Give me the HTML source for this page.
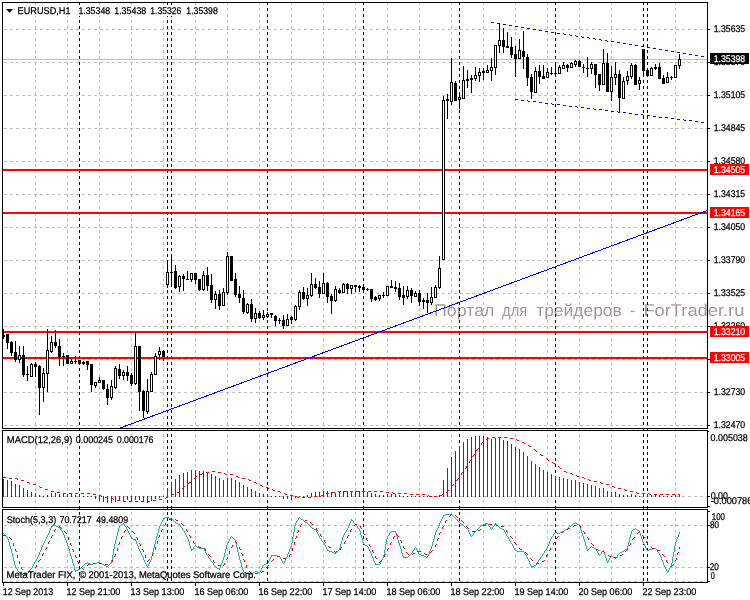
<!DOCTYPE html>
<html><head><meta charset="utf-8"><style>html,body{margin:0;padding:0;background:#fff;overflow:hidden}svg{display:block;will-change:transform}text{text-rendering:geometricPrecision}</style></head><body>
<svg width="750" height="600" viewBox="0 0 750 600" shape-rendering="crispEdges" font-family='"Liberation Sans", sans-serif'>
<rect x="0" y="0" width="750" height="600" fill="#fff"/>
<text x="434.0" y="316" font-size="17" fill="#a69797" textLength="60.5" lengthAdjust="spacingAndGlyphs">Портал</text>
<text x="502.0" y="316" font-size="17" fill="#a69797" textLength="25.4" lengthAdjust="spacingAndGlyphs">для</text>
<text x="536.2" y="316" font-size="17" fill="#a69797" textLength="85.6" lengthAdjust="spacingAndGlyphs">трейдеров</text>
<text x="629.7" y="316" font-size="17" fill="#a69797" textLength="5.5" lengthAdjust="spacingAndGlyphs">-</text>
<text x="643.4" y="316" font-size="17" fill="#a69797" textLength="101.0" lengthAdjust="spacingAndGlyphs">ForTrader.ru</text>
<line x1="4" y1="29.5" x2="707" y2="29.5" stroke="#c0c0c0" stroke-width="1" stroke-dasharray="3 3"/>
<line x1="4" y1="62.5" x2="707" y2="62.5" stroke="#c0c0c0" stroke-width="1" stroke-dasharray="3 3"/>
<line x1="4" y1="95.5" x2="707" y2="95.5" stroke="#c0c0c0" stroke-width="1" stroke-dasharray="3 3"/>
<line x1="4" y1="128.5" x2="707" y2="128.5" stroke="#c0c0c0" stroke-width="1" stroke-dasharray="3 3"/>
<line x1="4" y1="161.5" x2="707" y2="161.5" stroke="#c0c0c0" stroke-width="1" stroke-dasharray="3 3"/>
<line x1="4" y1="194.5" x2="707" y2="194.5" stroke="#c0c0c0" stroke-width="1" stroke-dasharray="3 3"/>
<line x1="4" y1="227.5" x2="707" y2="227.5" stroke="#c0c0c0" stroke-width="1" stroke-dasharray="3 3"/>
<line x1="4" y1="260.5" x2="707" y2="260.5" stroke="#c0c0c0" stroke-width="1" stroke-dasharray="3 3"/>
<line x1="4" y1="293.5" x2="707" y2="293.5" stroke="#c0c0c0" stroke-width="1" stroke-dasharray="3 3"/>
<line x1="4" y1="326.5" x2="707" y2="326.5" stroke="#c0c0c0" stroke-width="1" stroke-dasharray="3 3"/>
<line x1="4" y1="359.5" x2="707" y2="359.5" stroke="#c0c0c0" stroke-width="1" stroke-dasharray="3 3"/>
<line x1="4" y1="392.5" x2="707" y2="392.5" stroke="#c0c0c0" stroke-width="1" stroke-dasharray="3 3"/>
<line x1="4" y1="425.5" x2="707" y2="425.5" stroke="#c0c0c0" stroke-width="1" stroke-dasharray="3 3"/>
<line x1="4" y1="496.5" x2="707" y2="496.5" stroke="#c0c0c0" stroke-width="1" stroke-dasharray="3 3"/>
<line x1="4" y1="525.5" x2="707" y2="525.5" stroke="#c0c0c0" stroke-width="1" stroke-dasharray="3 3"/>
<line x1="4" y1="567.5" x2="707" y2="567.5" stroke="#c0c0c0" stroke-width="1" stroke-dasharray="3 3"/>
<line x1="4" y1="581.5" x2="707" y2="581.5" stroke="#c0c0c0" stroke-width="1" stroke-dasharray="3 3"/>
<line x1="35.5" y1="2" x2="35.5" y2="583" stroke="#c0c0c0" stroke-width="1" stroke-dasharray="3 3"/>
<line x1="67.5" y1="2" x2="67.5" y2="583" stroke="#c0c0c0" stroke-width="1" stroke-dasharray="3 3"/>
<line x1="99.5" y1="2" x2="99.5" y2="583" stroke="#c0c0c0" stroke-width="1" stroke-dasharray="3 3"/>
<line x1="131.5" y1="2" x2="131.5" y2="583" stroke="#c0c0c0" stroke-width="1" stroke-dasharray="3 3"/>
<line x1="163.5" y1="2" x2="163.5" y2="583" stroke="#c0c0c0" stroke-width="1" stroke-dasharray="3 3"/>
<line x1="195.5" y1="2" x2="195.5" y2="583" stroke="#c0c0c0" stroke-width="1" stroke-dasharray="3 3"/>
<line x1="227.5" y1="2" x2="227.5" y2="583" stroke="#c0c0c0" stroke-width="1" stroke-dasharray="3 3"/>
<line x1="259.5" y1="2" x2="259.5" y2="583" stroke="#c0c0c0" stroke-width="1" stroke-dasharray="3 3"/>
<line x1="291.5" y1="2" x2="291.5" y2="583" stroke="#c0c0c0" stroke-width="1" stroke-dasharray="3 3"/>
<line x1="323.5" y1="2" x2="323.5" y2="583" stroke="#c0c0c0" stroke-width="1" stroke-dasharray="3 3"/>
<line x1="355.5" y1="2" x2="355.5" y2="583" stroke="#c0c0c0" stroke-width="1" stroke-dasharray="3 3"/>
<line x1="387.5" y1="2" x2="387.5" y2="583" stroke="#c0c0c0" stroke-width="1" stroke-dasharray="3 3"/>
<line x1="419.5" y1="2" x2="419.5" y2="583" stroke="#c0c0c0" stroke-width="1" stroke-dasharray="3 3"/>
<line x1="451.5" y1="2" x2="451.5" y2="583" stroke="#c0c0c0" stroke-width="1" stroke-dasharray="3 3"/>
<line x1="483.5" y1="2" x2="483.5" y2="583" stroke="#c0c0c0" stroke-width="1" stroke-dasharray="3 3"/>
<line x1="515.5" y1="2" x2="515.5" y2="583" stroke="#c0c0c0" stroke-width="1" stroke-dasharray="3 3"/>
<line x1="547.5" y1="2" x2="547.5" y2="583" stroke="#c0c0c0" stroke-width="1" stroke-dasharray="3 3"/>
<line x1="579.5" y1="2" x2="579.5" y2="583" stroke="#c0c0c0" stroke-width="1" stroke-dasharray="3 3"/>
<line x1="611.5" y1="2" x2="611.5" y2="583" stroke="#c0c0c0" stroke-width="1" stroke-dasharray="3 3"/>
<line x1="643.5" y1="2" x2="643.5" y2="583" stroke="#c0c0c0" stroke-width="1" stroke-dasharray="3 3"/>
<line x1="675.5" y1="2" x2="675.5" y2="583" stroke="#c0c0c0" stroke-width="1" stroke-dasharray="3 3"/>
<rect x="3" y="169" width="704" height="2" fill="#ff0000"/>
<rect x="3" y="212" width="704" height="2" fill="#ff0000"/>
<rect x="3" y="331" width="704" height="2" fill="#ff0000"/>
<rect x="3" y="357" width="704" height="2" fill="#ff0000"/>
<line x1="120" y1="428.05" x2="707.5" y2="210.4" stroke="#0000ff" stroke-width="1"/>
<path d="M491 22h3v1h-3zM497 23h3v1h-3zM503 24h3v1h-3zM509 25h3v1h-3zM515 26h3v1h-3zM521 27h3v1h-3zM527 28h3v1h-3zM533 29h3v1h-3zM539 30h3v1h-3zM545 31h3v1h-3zM551 32h3v1h-3zM557 33h3v1h-3zM563 33h1v1h-1zM564 34h2v1h-2zM569 34h1v1h-1zM570 35h2v1h-2zM575 35h1v1h-1zM576 36h2v1h-2zM581 36h1v1h-1zM582 37h2v1h-2zM587 37h2v1h-2zM589 38h1v1h-1zM593 38h2v1h-2zM595 39h1v1h-1zM599 39h2v1h-2zM601 40h1v1h-1zM605 40h2v1h-2zM607 41h1v1h-1zM611 41h3v1h-3zM617 42h3v1h-3zM623 43h3v1h-3zM629 44h3v1h-3zM635 45h3v1h-3zM641 46h3v1h-3zM647 47h3v1h-3zM653 48h3v1h-3zM659 49h3v1h-3zM665 50h3v1h-3zM671 51h3v1h-3zM677 52h3v1h-3zM683 53h3v1h-3zM689 54h3v1h-3zM695 55h3v1h-3zM701 56h3v1h-3z" fill="#0000ff"/>
<path d="M515 99h3v1h-3zM521 100h3v1h-3zM527 100h1v1h-1zM528 101h2v1h-2zM533 101h3v1h-3zM539 102h3v1h-3zM545 103h3v1h-3zM551 103h1v1h-1zM552 104h2v1h-2zM557 104h3v1h-3zM563 105h3v1h-3zM569 106h3v1h-3zM575 106h2v1h-2zM577 107h1v1h-1zM581 107h3v1h-3zM587 108h3v1h-3zM593 108h1v1h-1zM594 109h2v1h-2zM599 109h3v1h-3zM605 110h3v1h-3zM611 111h3v1h-3zM617 111h1v1h-1zM618 112h2v1h-2zM623 112h3v1h-3zM629 113h3v1h-3zM635 114h3v1h-3zM641 114h2v1h-2zM643 115h1v1h-1zM647 115h3v1h-3zM653 116h3v1h-3zM659 117h3v1h-3zM665 117h3v1h-3zM671 118h3v1h-3zM677 119h3v1h-3zM683 119h1v1h-1zM684 120h2v1h-2zM689 120h3v1h-3zM695 121h3v1h-3zM701 122h3v1h-3z" fill="#0000ff"/>
<rect x="3" y="59" width="704" height="1" fill="#c0c0c0"/>
<line x1="79.5" y1="2" x2="79.5" y2="583" stroke="#000" stroke-width="1" stroke-dasharray="3 3"/>
<line x1="167.5" y1="2" x2="167.5" y2="583" stroke="#000" stroke-width="1" stroke-dasharray="3 3"/>
<line x1="171.5" y1="2" x2="171.5" y2="583" stroke="#000" stroke-width="1" stroke-dasharray="3 3"/>
<line x1="267.5" y1="2" x2="267.5" y2="583" stroke="#000" stroke-width="1" stroke-dasharray="3 3"/>
<line x1="363.5" y1="2" x2="363.5" y2="583" stroke="#000" stroke-width="1" stroke-dasharray="3 3"/>
<line x1="459.5" y1="2" x2="459.5" y2="583" stroke="#000" stroke-width="1" stroke-dasharray="3 3"/>
<line x1="555.5" y1="2" x2="555.5" y2="583" stroke="#000" stroke-width="1" stroke-dasharray="3 3"/>
<line x1="643.5" y1="2" x2="643.5" y2="583" stroke="#000" stroke-width="1" stroke-dasharray="3 3"/>
<line x1="647.5" y1="2" x2="647.5" y2="583" stroke="#000" stroke-width="1" stroke-dasharray="3 3"/>
<rect x="3" y="329" width="1" height="10" fill="#000"/>
<rect x="2" y="335" width="3" height="2" fill="#000"/>
<rect x="7" y="334" width="1" height="15" fill="#000"/>
<rect x="6" y="334" width="3" height="9" fill="#000"/>
<rect x="11" y="341" width="1" height="15" fill="#000"/>
<rect x="10" y="342" width="3" height="11" fill="#000"/>
<rect x="15" y="341" width="1" height="21" fill="#000"/>
<rect x="14" y="352" width="3" height="8" fill="#000"/>
<rect x="19" y="346" width="1" height="17" fill="#000"/>
<rect x="18" y="355" width="3" height="5" fill="#000"/>
<rect x="19" y="356" width="1" height="3" fill="#fff"/>
<rect x="23" y="346" width="1" height="31" fill="#000"/>
<rect x="22" y="355" width="3" height="20" fill="#000"/>
<rect x="27" y="366" width="1" height="15" fill="#000"/>
<rect x="26" y="374" width="3" height="1" fill="#000"/>
<rect x="31" y="363" width="1" height="14" fill="#000"/>
<rect x="30" y="364" width="3" height="13" fill="#000"/>
<rect x="31" y="365" width="1" height="11" fill="#fff"/>
<rect x="35" y="362" width="1" height="15" fill="#000"/>
<rect x="34" y="364" width="3" height="3" fill="#000"/>
<rect x="39" y="365" width="1" height="50" fill="#000"/>
<rect x="38" y="366" width="3" height="22" fill="#000"/>
<rect x="43" y="368" width="1" height="34" fill="#000"/>
<rect x="42" y="373" width="3" height="15" fill="#000"/>
<rect x="43" y="374" width="1" height="13" fill="#fff"/>
<rect x="47" y="329" width="1" height="63" fill="#000"/>
<rect x="46" y="350" width="3" height="24" fill="#000"/>
<rect x="47" y="351" width="1" height="22" fill="#fff"/>
<rect x="51" y="336" width="1" height="17" fill="#000"/>
<rect x="50" y="342" width="3" height="10" fill="#000"/>
<rect x="51" y="343" width="1" height="8" fill="#fff"/>
<rect x="55" y="330" width="1" height="18" fill="#000"/>
<rect x="54" y="342" width="3" height="4" fill="#000"/>
<rect x="59" y="339" width="1" height="27" fill="#000"/>
<rect x="58" y="346" width="3" height="11" fill="#000"/>
<rect x="63" y="353" width="1" height="13" fill="#000"/>
<rect x="62" y="356" width="3" height="1" fill="#000"/>
<rect x="67" y="355" width="1" height="9" fill="#000"/>
<rect x="66" y="355" width="3" height="9" fill="#000"/>
<rect x="71" y="357" width="1" height="6" fill="#000"/>
<rect x="70" y="361" width="3" height="3" fill="#000"/>
<rect x="71" y="362" width="1" height="1" fill="#fff"/>
<rect x="75" y="356" width="1" height="8" fill="#000"/>
<rect x="74" y="361" width="3" height="1" fill="#000"/>
<rect x="79" y="360" width="1" height="4" fill="#000"/>
<rect x="78" y="360" width="3" height="4" fill="#000"/>
<rect x="83" y="361" width="1" height="4" fill="#000"/>
<rect x="82" y="362" width="3" height="2" fill="#000"/>
<rect x="87" y="361" width="1" height="9" fill="#000"/>
<rect x="86" y="361" width="3" height="4" fill="#000"/>
<rect x="91" y="364" width="1" height="28" fill="#000"/>
<rect x="90" y="364" width="3" height="21" fill="#000"/>
<rect x="95" y="382" width="1" height="6" fill="#000"/>
<rect x="94" y="382" width="3" height="4" fill="#000"/>
<rect x="95" y="383" width="1" height="2" fill="#fff"/>
<rect x="99" y="377" width="1" height="5" fill="#000"/>
<rect x="98" y="380" width="3" height="3" fill="#000"/>
<rect x="99" y="381" width="1" height="1" fill="#fff"/>
<rect x="103" y="380" width="1" height="10" fill="#000"/>
<rect x="102" y="380" width="3" height="9" fill="#000"/>
<rect x="107" y="384" width="1" height="21" fill="#000"/>
<rect x="106" y="389" width="3" height="9" fill="#000"/>
<rect x="111" y="380" width="1" height="20" fill="#000"/>
<rect x="110" y="386" width="3" height="12" fill="#000"/>
<rect x="111" y="387" width="1" height="10" fill="#fff"/>
<rect x="115" y="366" width="1" height="23" fill="#000"/>
<rect x="114" y="368" width="3" height="20" fill="#000"/>
<rect x="115" y="369" width="1" height="18" fill="#fff"/>
<rect x="119" y="364" width="1" height="15" fill="#000"/>
<rect x="118" y="369" width="3" height="7" fill="#000"/>
<rect x="123" y="370" width="1" height="10" fill="#000"/>
<rect x="122" y="372" width="3" height="4" fill="#000"/>
<rect x="123" y="373" width="1" height="2" fill="#fff"/>
<rect x="127" y="366" width="1" height="15" fill="#000"/>
<rect x="126" y="372" width="3" height="4" fill="#000"/>
<rect x="131" y="373" width="1" height="13" fill="#000"/>
<rect x="130" y="375" width="3" height="9" fill="#000"/>
<rect x="135" y="332" width="1" height="53" fill="#000"/>
<rect x="134" y="346" width="3" height="38" fill="#000"/>
<rect x="135" y="347" width="1" height="36" fill="#fff"/>
<rect x="139" y="346" width="1" height="65" fill="#000"/>
<rect x="138" y="346" width="3" height="46" fill="#000"/>
<rect x="143" y="390" width="1" height="28" fill="#000"/>
<rect x="142" y="391" width="3" height="20" fill="#000"/>
<rect x="147" y="379" width="1" height="35" fill="#000"/>
<rect x="146" y="391" width="3" height="21" fill="#000"/>
<rect x="147" y="392" width="1" height="19" fill="#fff"/>
<rect x="151" y="372" width="1" height="20" fill="#000"/>
<rect x="150" y="374" width="3" height="18" fill="#000"/>
<rect x="151" y="375" width="1" height="16" fill="#fff"/>
<rect x="155" y="353" width="1" height="22" fill="#000"/>
<rect x="154" y="356" width="3" height="19" fill="#000"/>
<rect x="155" y="357" width="1" height="17" fill="#fff"/>
<rect x="159" y="347" width="1" height="13" fill="#000"/>
<rect x="158" y="351" width="3" height="4" fill="#000"/>
<rect x="159" y="352" width="1" height="2" fill="#fff"/>
<rect x="163" y="350" width="1" height="11" fill="#000"/>
<rect x="162" y="351" width="3" height="6" fill="#000"/>
<rect x="167" y="261" width="1" height="27" fill="#000"/>
<rect x="166" y="272" width="3" height="13" fill="#000"/>
<rect x="167" y="273" width="1" height="11" fill="#fff"/>
<rect x="171" y="254" width="1" height="32" fill="#000"/>
<rect x="170" y="272" width="3" height="1" fill="#000"/>
<rect x="175" y="265" width="1" height="24" fill="#000"/>
<rect x="174" y="271" width="3" height="17" fill="#000"/>
<rect x="179" y="275" width="1" height="17" fill="#000"/>
<rect x="178" y="276" width="3" height="11" fill="#000"/>
<rect x="179" y="277" width="1" height="9" fill="#fff"/>
<rect x="183" y="274" width="1" height="17" fill="#000"/>
<rect x="182" y="276" width="3" height="3" fill="#000"/>
<rect x="187" y="271" width="1" height="8" fill="#000"/>
<rect x="186" y="279" width="3" height="1" fill="#000"/>
<rect x="191" y="273" width="1" height="9" fill="#000"/>
<rect x="190" y="273" width="3" height="7" fill="#000"/>
<rect x="191" y="274" width="1" height="5" fill="#fff"/>
<rect x="195" y="273" width="1" height="11" fill="#000"/>
<rect x="194" y="273" width="3" height="7" fill="#000"/>
<rect x="199" y="279" width="1" height="12" fill="#000"/>
<rect x="198" y="279" width="3" height="11" fill="#000"/>
<rect x="203" y="271" width="1" height="20" fill="#000"/>
<rect x="202" y="275" width="3" height="15" fill="#000"/>
<rect x="203" y="276" width="1" height="13" fill="#fff"/>
<rect x="207" y="267" width="1" height="24" fill="#000"/>
<rect x="206" y="275" width="3" height="11" fill="#000"/>
<rect x="211" y="274" width="1" height="29" fill="#000"/>
<rect x="210" y="285" width="3" height="15" fill="#000"/>
<rect x="215" y="291" width="1" height="18" fill="#000"/>
<rect x="214" y="294" width="3" height="6" fill="#000"/>
<rect x="215" y="295" width="1" height="4" fill="#fff"/>
<rect x="219" y="290" width="1" height="20" fill="#000"/>
<rect x="218" y="294" width="3" height="12" fill="#000"/>
<rect x="223" y="288" width="1" height="18" fill="#000"/>
<rect x="222" y="292" width="3" height="14" fill="#000"/>
<rect x="223" y="293" width="1" height="12" fill="#fff"/>
<rect x="227" y="252" width="1" height="43" fill="#000"/>
<rect x="226" y="256" width="3" height="37" fill="#000"/>
<rect x="227" y="257" width="1" height="35" fill="#fff"/>
<rect x="231" y="256" width="1" height="25" fill="#000"/>
<rect x="230" y="256" width="3" height="25" fill="#000"/>
<rect x="235" y="273" width="1" height="24" fill="#000"/>
<rect x="234" y="279" width="3" height="16" fill="#000"/>
<rect x="239" y="286" width="1" height="17" fill="#000"/>
<rect x="238" y="294" width="3" height="4" fill="#000"/>
<rect x="243" y="290" width="1" height="24" fill="#000"/>
<rect x="242" y="298" width="3" height="14" fill="#000"/>
<rect x="247" y="303" width="1" height="11" fill="#000"/>
<rect x="246" y="304" width="3" height="9" fill="#000"/>
<rect x="247" y="305" width="1" height="7" fill="#fff"/>
<rect x="251" y="299" width="1" height="23" fill="#000"/>
<rect x="250" y="304" width="3" height="15" fill="#000"/>
<rect x="255" y="308" width="1" height="15" fill="#000"/>
<rect x="254" y="313" width="3" height="6" fill="#000"/>
<rect x="255" y="314" width="1" height="4" fill="#fff"/>
<rect x="259" y="311" width="1" height="8" fill="#000"/>
<rect x="258" y="313" width="3" height="5" fill="#000"/>
<rect x="263" y="310" width="1" height="10" fill="#000"/>
<rect x="262" y="315" width="3" height="3" fill="#000"/>
<rect x="263" y="316" width="1" height="1" fill="#fff"/>
<rect x="267" y="312" width="1" height="6" fill="#000"/>
<rect x="266" y="314" width="3" height="3" fill="#000"/>
<rect x="267" y="315" width="1" height="1" fill="#fff"/>
<rect x="271" y="313" width="1" height="5" fill="#000"/>
<rect x="270" y="313" width="3" height="2" fill="#000"/>
<rect x="275" y="315" width="1" height="11" fill="#000"/>
<rect x="274" y="316" width="3" height="5" fill="#000"/>
<rect x="279" y="318" width="1" height="6" fill="#000"/>
<rect x="278" y="320" width="3" height="1" fill="#000"/>
<rect x="283" y="315" width="1" height="14" fill="#000"/>
<rect x="282" y="320" width="3" height="6" fill="#000"/>
<rect x="287" y="314" width="1" height="12" fill="#000"/>
<rect x="286" y="319" width="3" height="7" fill="#000"/>
<rect x="287" y="320" width="1" height="5" fill="#fff"/>
<rect x="291" y="316" width="1" height="8" fill="#000"/>
<rect x="290" y="317" width="3" height="3" fill="#000"/>
<rect x="295" y="305" width="1" height="16" fill="#000"/>
<rect x="294" y="306" width="3" height="14" fill="#000"/>
<rect x="295" y="307" width="1" height="12" fill="#fff"/>
<rect x="299" y="290" width="1" height="20" fill="#000"/>
<rect x="298" y="292" width="3" height="15" fill="#000"/>
<rect x="299" y="293" width="1" height="13" fill="#fff"/>
<rect x="303" y="287" width="1" height="13" fill="#000"/>
<rect x="302" y="292" width="3" height="7" fill="#000"/>
<rect x="307" y="288" width="1" height="18" fill="#000"/>
<rect x="306" y="295" width="3" height="4" fill="#000"/>
<rect x="307" y="296" width="1" height="2" fill="#fff"/>
<rect x="311" y="273" width="1" height="24" fill="#000"/>
<rect x="310" y="284" width="3" height="12" fill="#000"/>
<rect x="311" y="285" width="1" height="10" fill="#fff"/>
<rect x="315" y="278" width="1" height="11" fill="#000"/>
<rect x="314" y="284" width="3" height="4" fill="#000"/>
<rect x="319" y="281" width="1" height="17" fill="#000"/>
<rect x="318" y="287" width="3" height="7" fill="#000"/>
<rect x="323" y="273" width="1" height="21" fill="#000"/>
<rect x="322" y="283" width="3" height="11" fill="#000"/>
<rect x="323" y="284" width="1" height="9" fill="#fff"/>
<rect x="327" y="282" width="1" height="21" fill="#000"/>
<rect x="326" y="283" width="3" height="14" fill="#000"/>
<rect x="331" y="294" width="1" height="20" fill="#000"/>
<rect x="330" y="296" width="3" height="5" fill="#000"/>
<rect x="335" y="286" width="1" height="16" fill="#000"/>
<rect x="334" y="289" width="3" height="12" fill="#000"/>
<rect x="335" y="290" width="1" height="10" fill="#fff"/>
<rect x="339" y="288" width="1" height="6" fill="#000"/>
<rect x="338" y="290" width="3" height="3" fill="#000"/>
<rect x="343" y="283" width="1" height="10" fill="#000"/>
<rect x="342" y="284" width="3" height="9" fill="#000"/>
<rect x="343" y="285" width="1" height="7" fill="#fff"/>
<rect x="347" y="283" width="1" height="11" fill="#000"/>
<rect x="346" y="284" width="3" height="5" fill="#000"/>
<rect x="351" y="285" width="1" height="9" fill="#000"/>
<rect x="350" y="285" width="3" height="4" fill="#000"/>
<rect x="351" y="286" width="1" height="2" fill="#fff"/>
<rect x="355" y="285" width="1" height="7" fill="#000"/>
<rect x="354" y="285" width="3" height="2" fill="#000"/>
<rect x="359" y="285" width="1" height="7" fill="#000"/>
<rect x="358" y="286" width="3" height="2" fill="#000"/>
<rect x="363" y="284" width="1" height="8" fill="#000"/>
<rect x="362" y="287" width="3" height="3" fill="#000"/>
<rect x="367" y="288" width="1" height="3" fill="#000"/>
<rect x="366" y="289" width="3" height="1" fill="#000"/>
<rect x="371" y="289" width="1" height="13" fill="#000"/>
<rect x="370" y="289" width="3" height="10" fill="#000"/>
<rect x="375" y="296" width="1" height="5" fill="#000"/>
<rect x="374" y="297" width="3" height="3" fill="#000"/>
<rect x="379" y="295" width="1" height="6" fill="#000"/>
<rect x="378" y="295" width="3" height="4" fill="#000"/>
<rect x="379" y="296" width="1" height="2" fill="#fff"/>
<rect x="383" y="292" width="1" height="6" fill="#000"/>
<rect x="382" y="295" width="3" height="1" fill="#000"/>
<rect x="387" y="286" width="1" height="10" fill="#000"/>
<rect x="386" y="286" width="3" height="10" fill="#000"/>
<rect x="387" y="287" width="1" height="8" fill="#fff"/>
<rect x="391" y="280" width="1" height="8" fill="#000"/>
<rect x="390" y="286" width="3" height="2" fill="#000"/>
<rect x="395" y="281" width="1" height="11" fill="#000"/>
<rect x="394" y="287" width="3" height="2" fill="#000"/>
<rect x="399" y="283" width="1" height="17" fill="#000"/>
<rect x="398" y="288" width="3" height="9" fill="#000"/>
<rect x="403" y="286" width="1" height="19" fill="#000"/>
<rect x="402" y="295" width="3" height="3" fill="#000"/>
<rect x="407" y="286" width="1" height="13" fill="#000"/>
<rect x="406" y="290" width="3" height="7" fill="#000"/>
<rect x="407" y="291" width="1" height="5" fill="#fff"/>
<rect x="411" y="288" width="1" height="15" fill="#000"/>
<rect x="410" y="290" width="3" height="6" fill="#000"/>
<rect x="415" y="291" width="1" height="6" fill="#000"/>
<rect x="414" y="293" width="3" height="4" fill="#000"/>
<rect x="415" y="294" width="1" height="2" fill="#fff"/>
<rect x="419" y="290" width="1" height="16" fill="#000"/>
<rect x="418" y="293" width="3" height="9" fill="#000"/>
<rect x="423" y="298" width="1" height="11" fill="#000"/>
<rect x="422" y="300" width="3" height="2" fill="#000"/>
<rect x="427" y="293" width="1" height="20" fill="#000"/>
<rect x="426" y="300" width="3" height="3" fill="#000"/>
<rect x="431" y="287" width="1" height="18" fill="#000"/>
<rect x="430" y="297" width="3" height="6" fill="#000"/>
<rect x="431" y="298" width="1" height="4" fill="#fff"/>
<rect x="435" y="285" width="1" height="13" fill="#000"/>
<rect x="434" y="287" width="3" height="11" fill="#000"/>
<rect x="435" y="288" width="1" height="9" fill="#fff"/>
<rect x="439" y="256" width="1" height="33" fill="#000"/>
<rect x="438" y="268" width="3" height="20" fill="#000"/>
<rect x="439" y="269" width="1" height="18" fill="#fff"/>
<rect x="443" y="96" width="1" height="164" fill="#000"/>
<rect x="442" y="100" width="3" height="160" fill="#000"/>
<rect x="443" y="101" width="1" height="158" fill="#fff"/>
<rect x="447" y="94" width="1" height="25" fill="#000"/>
<rect x="446" y="99" width="3" height="2" fill="#000"/>
<rect x="451" y="58" width="1" height="47" fill="#000"/>
<rect x="450" y="82" width="3" height="20" fill="#000"/>
<rect x="451" y="83" width="1" height="18" fill="#fff"/>
<rect x="455" y="81" width="1" height="20" fill="#000"/>
<rect x="454" y="83" width="3" height="18" fill="#000"/>
<rect x="459" y="92" width="1" height="17" fill="#000"/>
<rect x="458" y="97" width="3" height="3" fill="#000"/>
<rect x="459" y="98" width="1" height="1" fill="#fff"/>
<rect x="463" y="66" width="1" height="33" fill="#000"/>
<rect x="462" y="80" width="3" height="19" fill="#000"/>
<rect x="463" y="81" width="1" height="17" fill="#fff"/>
<rect x="467" y="70" width="1" height="18" fill="#000"/>
<rect x="466" y="79" width="3" height="2" fill="#000"/>
<rect x="471" y="75" width="1" height="18" fill="#000"/>
<rect x="470" y="78" width="3" height="2" fill="#000"/>
<rect x="475" y="67" width="1" height="14" fill="#000"/>
<rect x="474" y="75" width="3" height="4" fill="#000"/>
<rect x="475" y="76" width="1" height="2" fill="#fff"/>
<rect x="479" y="68" width="1" height="14" fill="#000"/>
<rect x="478" y="72" width="3" height="4" fill="#000"/>
<rect x="479" y="73" width="1" height="2" fill="#fff"/>
<rect x="483" y="68" width="1" height="12" fill="#000"/>
<rect x="482" y="71" width="3" height="2" fill="#000"/>
<rect x="487" y="65" width="1" height="8" fill="#000"/>
<rect x="486" y="70" width="3" height="3" fill="#000"/>
<rect x="487" y="71" width="1" height="1" fill="#fff"/>
<rect x="491" y="58" width="1" height="23" fill="#000"/>
<rect x="490" y="67" width="3" height="4" fill="#000"/>
<rect x="491" y="68" width="1" height="2" fill="#fff"/>
<rect x="495" y="45" width="1" height="30" fill="#000"/>
<rect x="494" y="45" width="3" height="23" fill="#000"/>
<rect x="495" y="46" width="1" height="21" fill="#fff"/>
<rect x="499" y="24" width="1" height="29" fill="#000"/>
<rect x="498" y="40" width="3" height="6" fill="#000"/>
<rect x="499" y="41" width="1" height="4" fill="#fff"/>
<rect x="503" y="28" width="1" height="25" fill="#000"/>
<rect x="502" y="40" width="3" height="7" fill="#000"/>
<rect x="507" y="32" width="1" height="16" fill="#000"/>
<rect x="506" y="46" width="3" height="2" fill="#000"/>
<rect x="511" y="37" width="1" height="21" fill="#000"/>
<rect x="510" y="47" width="3" height="8" fill="#000"/>
<rect x="515" y="46" width="1" height="31" fill="#000"/>
<rect x="514" y="54" width="3" height="5" fill="#000"/>
<rect x="519" y="39" width="1" height="20" fill="#000"/>
<rect x="518" y="50" width="3" height="9" fill="#000"/>
<rect x="519" y="51" width="1" height="7" fill="#fff"/>
<rect x="523" y="31" width="1" height="38" fill="#000"/>
<rect x="522" y="51" width="3" height="6" fill="#000"/>
<rect x="527" y="54" width="1" height="32" fill="#000"/>
<rect x="526" y="57" width="3" height="21" fill="#000"/>
<rect x="531" y="74" width="1" height="25" fill="#000"/>
<rect x="530" y="77" width="3" height="15" fill="#000"/>
<rect x="535" y="67" width="1" height="26" fill="#000"/>
<rect x="534" y="71" width="3" height="22" fill="#000"/>
<rect x="535" y="72" width="1" height="20" fill="#fff"/>
<rect x="539" y="65" width="1" height="19" fill="#000"/>
<rect x="538" y="71" width="3" height="6" fill="#000"/>
<rect x="543" y="65" width="1" height="14" fill="#000"/>
<rect x="542" y="76" width="3" height="3" fill="#000"/>
<rect x="547" y="68" width="1" height="10" fill="#000"/>
<rect x="546" y="72" width="3" height="6" fill="#000"/>
<rect x="547" y="73" width="1" height="4" fill="#fff"/>
<rect x="551" y="67" width="1" height="8" fill="#000"/>
<rect x="550" y="73" width="3" height="1" fill="#000"/>
<rect x="555" y="63" width="1" height="13" fill="#000"/>
<rect x="554" y="73" width="3" height="1" fill="#000"/>
<rect x="559" y="65" width="1" height="9" fill="#000"/>
<rect x="558" y="67" width="3" height="7" fill="#000"/>
<rect x="559" y="68" width="1" height="5" fill="#fff"/>
<rect x="563" y="62" width="1" height="7" fill="#000"/>
<rect x="562" y="65" width="3" height="4" fill="#000"/>
<rect x="563" y="66" width="1" height="2" fill="#fff"/>
<rect x="567" y="64" width="1" height="8" fill="#000"/>
<rect x="566" y="65" width="3" height="3" fill="#000"/>
<rect x="571" y="62" width="1" height="6" fill="#000"/>
<rect x="570" y="63" width="3" height="5" fill="#000"/>
<rect x="571" y="64" width="1" height="3" fill="#fff"/>
<rect x="575" y="60" width="1" height="7" fill="#000"/>
<rect x="574" y="61" width="3" height="4" fill="#000"/>
<rect x="575" y="62" width="1" height="2" fill="#fff"/>
<rect x="579" y="60" width="1" height="7" fill="#000"/>
<rect x="578" y="61" width="3" height="6" fill="#000"/>
<rect x="583" y="64" width="1" height="9" fill="#000"/>
<rect x="582" y="67" width="3" height="1" fill="#000"/>
<rect x="587" y="57" width="1" height="20" fill="#000"/>
<rect x="586" y="68" width="3" height="1" fill="#000"/>
<rect x="591" y="62" width="1" height="12" fill="#000"/>
<rect x="590" y="64" width="3" height="5" fill="#000"/>
<rect x="591" y="65" width="1" height="3" fill="#fff"/>
<rect x="595" y="64" width="1" height="24" fill="#000"/>
<rect x="594" y="64" width="3" height="11" fill="#000"/>
<rect x="599" y="74" width="1" height="17" fill="#000"/>
<rect x="598" y="74" width="3" height="11" fill="#000"/>
<rect x="603" y="49" width="1" height="36" fill="#000"/>
<rect x="602" y="63" width="3" height="22" fill="#000"/>
<rect x="603" y="64" width="1" height="20" fill="#fff"/>
<rect x="607" y="53" width="1" height="39" fill="#000"/>
<rect x="606" y="63" width="3" height="29" fill="#000"/>
<rect x="611" y="66" width="1" height="35" fill="#000"/>
<rect x="610" y="77" width="3" height="15" fill="#000"/>
<rect x="611" y="78" width="1" height="13" fill="#fff"/>
<rect x="615" y="62" width="1" height="23" fill="#000"/>
<rect x="614" y="74" width="3" height="4" fill="#000"/>
<rect x="615" y="75" width="1" height="2" fill="#fff"/>
<rect x="619" y="70" width="1" height="43" fill="#000"/>
<rect x="618" y="74" width="3" height="24" fill="#000"/>
<rect x="623" y="77" width="1" height="22" fill="#000"/>
<rect x="622" y="81" width="3" height="18" fill="#000"/>
<rect x="623" y="82" width="1" height="16" fill="#fff"/>
<rect x="627" y="71" width="1" height="14" fill="#000"/>
<rect x="626" y="76" width="3" height="5" fill="#000"/>
<rect x="627" y="77" width="1" height="3" fill="#fff"/>
<rect x="631" y="63" width="1" height="16" fill="#000"/>
<rect x="630" y="65" width="3" height="12" fill="#000"/>
<rect x="631" y="66" width="1" height="10" fill="#fff"/>
<rect x="635" y="64" width="1" height="21" fill="#000"/>
<rect x="634" y="65" width="3" height="20" fill="#000"/>
<rect x="639" y="77" width="1" height="13" fill="#000"/>
<rect x="638" y="80" width="3" height="4" fill="#000"/>
<rect x="639" y="81" width="1" height="2" fill="#fff"/>
<rect x="643" y="49" width="1" height="27" fill="#000"/>
<rect x="642" y="49" width="3" height="22" fill="#000"/>
<rect x="647" y="69" width="1" height="7" fill="#000"/>
<rect x="646" y="70" width="3" height="6" fill="#000"/>
<rect x="651" y="67" width="1" height="9" fill="#000"/>
<rect x="650" y="68" width="3" height="8" fill="#000"/>
<rect x="651" y="69" width="1" height="6" fill="#fff"/>
<rect x="655" y="64" width="1" height="6" fill="#000"/>
<rect x="654" y="67" width="3" height="2" fill="#000"/>
<rect x="659" y="63" width="1" height="16" fill="#000"/>
<rect x="658" y="67" width="3" height="12" fill="#000"/>
<rect x="663" y="75" width="1" height="9" fill="#000"/>
<rect x="662" y="78" width="3" height="6" fill="#000"/>
<rect x="667" y="72" width="1" height="11" fill="#000"/>
<rect x="666" y="77" width="3" height="6" fill="#000"/>
<rect x="667" y="78" width="1" height="4" fill="#fff"/>
<rect x="671" y="76" width="1" height="4" fill="#000"/>
<rect x="670" y="77" width="3" height="1" fill="#000"/>
<rect x="675" y="65" width="1" height="13" fill="#000"/>
<rect x="674" y="65" width="3" height="13" fill="#000"/>
<rect x="675" y="66" width="1" height="11" fill="#fff"/>
<rect x="679" y="54" width="1" height="15" fill="#000"/>
<rect x="678" y="59" width="3" height="7" fill="#000"/>
<rect x="679" y="60" width="1" height="5" fill="#fff"/>
<rect x="3" y="479" width="1" height="18" fill="#006400"/>
<rect x="7" y="480" width="1" height="17" fill="#006400"/>
<rect x="11" y="481" width="1" height="16" fill="#006400"/>
<rect x="15" y="484" width="1" height="13" fill="#006400"/>
<rect x="19" y="485" width="1" height="12" fill="#006400"/>
<rect x="23" y="488" width="1" height="9" fill="#006400"/>
<rect x="27" y="490" width="1" height="7" fill="#006400"/>
<rect x="31" y="492" width="1" height="5" fill="#006400"/>
<rect x="35" y="493" width="1" height="4" fill="#006400"/>
<rect x="39" y="495" width="1" height="2" fill="#006400"/>
<rect x="43" y="496" width="1" height="1" fill="#006400"/>
<rect x="47" y="495" width="1" height="2" fill="#006400"/>
<rect x="51" y="493" width="1" height="4" fill="#006400"/>
<rect x="55" y="493" width="1" height="4" fill="#006400"/>
<rect x="59" y="494" width="1" height="3" fill="#006400"/>
<rect x="63" y="493" width="1" height="4" fill="#006400"/>
<rect x="67" y="494" width="1" height="3" fill="#006400"/>
<rect x="71" y="494" width="1" height="3" fill="#006400"/>
<rect x="75" y="495" width="1" height="2" fill="#006400"/>
<rect x="79" y="495" width="1" height="2" fill="#006400"/>
<rect x="83" y="496" width="1" height="1" fill="#006400"/>
<rect x="87" y="496" width="1" height="1" fill="#006400"/>
<rect x="91" y="496" width="1" height="1" fill="#006400"/>
<rect x="95" y="496" width="1" height="3" fill="#006400"/>
<rect x="99" y="496" width="1" height="5" fill="#006400"/>
<rect x="103" y="496" width="1" height="6" fill="#006400"/>
<rect x="107" y="496" width="1" height="7" fill="#006400"/>
<rect x="111" y="496" width="1" height="7" fill="#006400"/>
<rect x="115" y="496" width="1" height="6" fill="#006400"/>
<rect x="119" y="496" width="1" height="5" fill="#006400"/>
<rect x="123" y="496" width="1" height="6" fill="#006400"/>
<rect x="127" y="496" width="1" height="4" fill="#006400"/>
<rect x="131" y="496" width="1" height="6" fill="#006400"/>
<rect x="135" y="496" width="1" height="4" fill="#006400"/>
<rect x="139" y="496" width="1" height="4" fill="#006400"/>
<rect x="143" y="496" width="1" height="6" fill="#006400"/>
<rect x="147" y="496" width="1" height="7" fill="#006400"/>
<rect x="151" y="496" width="1" height="5" fill="#006400"/>
<rect x="155" y="496" width="1" height="3" fill="#006400"/>
<rect x="159" y="496" width="1" height="2" fill="#006400"/>
<rect x="163" y="496" width="1" height="1" fill="#006400"/>
<rect x="167" y="488" width="1" height="9" fill="#006400"/>
<rect x="171" y="482" width="1" height="15" fill="#006400"/>
<rect x="175" y="479" width="1" height="18" fill="#006400"/>
<rect x="179" y="475" width="1" height="22" fill="#006400"/>
<rect x="183" y="473" width="1" height="24" fill="#006400"/>
<rect x="187" y="472" width="1" height="25" fill="#006400"/>
<rect x="191" y="470" width="1" height="27" fill="#006400"/>
<rect x="195" y="470" width="1" height="27" fill="#006400"/>
<rect x="199" y="471" width="1" height="26" fill="#006400"/>
<rect x="203" y="471" width="1" height="26" fill="#006400"/>
<rect x="207" y="473" width="1" height="24" fill="#006400"/>
<rect x="211" y="474" width="1" height="23" fill="#006400"/>
<rect x="215" y="476" width="1" height="21" fill="#006400"/>
<rect x="219" y="478" width="1" height="19" fill="#006400"/>
<rect x="223" y="480" width="1" height="17" fill="#006400"/>
<rect x="227" y="478" width="1" height="19" fill="#006400"/>
<rect x="231" y="478" width="1" height="19" fill="#006400"/>
<rect x="235" y="480" width="1" height="17" fill="#006400"/>
<rect x="239" y="482" width="1" height="15" fill="#006400"/>
<rect x="243" y="485" width="1" height="12" fill="#006400"/>
<rect x="247" y="487" width="1" height="10" fill="#006400"/>
<rect x="251" y="489" width="1" height="8" fill="#006400"/>
<rect x="255" y="491" width="1" height="6" fill="#006400"/>
<rect x="259" y="493" width="1" height="4" fill="#006400"/>
<rect x="263" y="494" width="1" height="3" fill="#006400"/>
<rect x="267" y="494" width="1" height="3" fill="#006400"/>
<rect x="271" y="496" width="1" height="1" fill="#006400"/>
<rect x="275" y="496" width="1" height="1" fill="#006400"/>
<rect x="279" y="496" width="1" height="1" fill="#006400"/>
<rect x="283" y="496" width="1" height="3" fill="#006400"/>
<rect x="287" y="496" width="1" height="3" fill="#006400"/>
<rect x="291" y="496" width="1" height="4" fill="#006400"/>
<rect x="295" y="496" width="1" height="2" fill="#006400"/>
<rect x="299" y="496" width="1" height="1" fill="#006400"/>
<rect x="303" y="496" width="1" height="1" fill="#006400"/>
<rect x="307" y="495" width="1" height="2" fill="#006400"/>
<rect x="311" y="493" width="1" height="4" fill="#006400"/>
<rect x="315" y="492" width="1" height="5" fill="#006400"/>
<rect x="319" y="492" width="1" height="5" fill="#006400"/>
<rect x="323" y="491" width="1" height="6" fill="#006400"/>
<rect x="327" y="491" width="1" height="6" fill="#006400"/>
<rect x="331" y="492" width="1" height="5" fill="#006400"/>
<rect x="335" y="493" width="1" height="4" fill="#006400"/>
<rect x="339" y="491" width="1" height="6" fill="#006400"/>
<rect x="343" y="491" width="1" height="6" fill="#006400"/>
<rect x="347" y="491" width="1" height="6" fill="#006400"/>
<rect x="351" y="491" width="1" height="6" fill="#006400"/>
<rect x="355" y="491" width="1" height="6" fill="#006400"/>
<rect x="359" y="491" width="1" height="6" fill="#006400"/>
<rect x="363" y="491" width="1" height="6" fill="#006400"/>
<rect x="367" y="492" width="1" height="5" fill="#006400"/>
<rect x="371" y="493" width="1" height="4" fill="#006400"/>
<rect x="375" y="494" width="1" height="3" fill="#006400"/>
<rect x="379" y="495" width="1" height="2" fill="#006400"/>
<rect x="383" y="495" width="1" height="2" fill="#006400"/>
<rect x="387" y="494" width="1" height="3" fill="#006400"/>
<rect x="391" y="494" width="1" height="3" fill="#006400"/>
<rect x="395" y="494" width="1" height="3" fill="#006400"/>
<rect x="399" y="495" width="1" height="2" fill="#006400"/>
<rect x="403" y="496" width="1" height="1" fill="#006400"/>
<rect x="407" y="496" width="1" height="1" fill="#006400"/>
<rect x="411" y="496" width="1" height="1" fill="#006400"/>
<rect x="415" y="496" width="1" height="1" fill="#006400"/>
<rect x="419" y="496" width="1" height="1" fill="#006400"/>
<rect x="423" y="496" width="1" height="1" fill="#006400"/>
<rect x="427" y="496" width="1" height="1" fill="#006400"/>
<rect x="431" y="496" width="1" height="1" fill="#006400"/>
<rect x="435" y="496" width="1" height="1" fill="#006400"/>
<rect x="439" y="495" width="1" height="2" fill="#006400"/>
<rect x="443" y="480" width="1" height="17" fill="#006400"/>
<rect x="447" y="468" width="1" height="29" fill="#006400"/>
<rect x="451" y="457" width="1" height="40" fill="#006400"/>
<rect x="455" y="451" width="1" height="46" fill="#006400"/>
<rect x="459" y="446" width="1" height="51" fill="#006400"/>
<rect x="463" y="442" width="1" height="55" fill="#006400"/>
<rect x="467" y="439" width="1" height="58" fill="#006400"/>
<rect x="471" y="437" width="1" height="60" fill="#006400"/>
<rect x="475" y="436" width="1" height="61" fill="#006400"/>
<rect x="479" y="436" width="1" height="61" fill="#006400"/>
<rect x="483" y="436" width="1" height="61" fill="#006400"/>
<rect x="487" y="437" width="1" height="60" fill="#006400"/>
<rect x="491" y="439" width="1" height="58" fill="#006400"/>
<rect x="495" y="438" width="1" height="59" fill="#006400"/>
<rect x="499" y="438" width="1" height="59" fill="#006400"/>
<rect x="503" y="440" width="1" height="57" fill="#006400"/>
<rect x="507" y="441" width="1" height="56" fill="#006400"/>
<rect x="511" y="444" width="1" height="53" fill="#006400"/>
<rect x="515" y="447" width="1" height="50" fill="#006400"/>
<rect x="519" y="449" width="1" height="48" fill="#006400"/>
<rect x="523" y="452" width="1" height="45" fill="#006400"/>
<rect x="527" y="456" width="1" height="41" fill="#006400"/>
<rect x="531" y="461" width="1" height="36" fill="#006400"/>
<rect x="535" y="464" width="1" height="33" fill="#006400"/>
<rect x="539" y="467" width="1" height="30" fill="#006400"/>
<rect x="543" y="470" width="1" height="27" fill="#006400"/>
<rect x="547" y="472" width="1" height="25" fill="#006400"/>
<rect x="551" y="474" width="1" height="23" fill="#006400"/>
<rect x="555" y="476" width="1" height="21" fill="#006400"/>
<rect x="559" y="477" width="1" height="20" fill="#006400"/>
<rect x="563" y="478" width="1" height="19" fill="#006400"/>
<rect x="567" y="479" width="1" height="18" fill="#006400"/>
<rect x="571" y="480" width="1" height="17" fill="#006400"/>
<rect x="575" y="480" width="1" height="17" fill="#006400"/>
<rect x="579" y="482" width="1" height="15" fill="#006400"/>
<rect x="583" y="483" width="1" height="14" fill="#006400"/>
<rect x="587" y="484" width="1" height="13" fill="#006400"/>
<rect x="591" y="485" width="1" height="12" fill="#006400"/>
<rect x="595" y="486" width="1" height="11" fill="#006400"/>
<rect x="599" y="488" width="1" height="9" fill="#006400"/>
<rect x="603" y="488" width="1" height="9" fill="#006400"/>
<rect x="607" y="491" width="1" height="6" fill="#006400"/>
<rect x="611" y="492" width="1" height="5" fill="#006400"/>
<rect x="615" y="492" width="1" height="5" fill="#006400"/>
<rect x="619" y="494" width="1" height="3" fill="#006400"/>
<rect x="623" y="495" width="1" height="2" fill="#006400"/>
<rect x="627" y="495" width="1" height="2" fill="#006400"/>
<rect x="631" y="494" width="1" height="3" fill="#006400"/>
<rect x="635" y="495" width="1" height="2" fill="#006400"/>
<rect x="639" y="496" width="1" height="1" fill="#006400"/>
<rect x="643" y="494" width="1" height="3" fill="#006400"/>
<rect x="647" y="494" width="1" height="3" fill="#006400"/>
<rect x="651" y="495" width="1" height="2" fill="#006400"/>
<rect x="655" y="495" width="1" height="2" fill="#006400"/>
<rect x="659" y="495" width="1" height="2" fill="#006400"/>
<rect x="663" y="496" width="1" height="1" fill="#006400"/>
<rect x="667" y="496" width="1" height="1" fill="#006400"/>
<rect x="671" y="496" width="1" height="1" fill="#006400"/>
<rect x="675" y="495" width="1" height="2" fill="#006400"/>
<rect x="679" y="494" width="1" height="3" fill="#006400"/>
<path d="M492 437h3v1h-3zM498 437h3v1h-3zM504 437h3v1h-3zM488 438h1v1h-1zM510 438h3v1h-3zM486 439h2v1h-2zM516 439h1v1h-1zM517 440h2v1h-2zM482 442h1v1h-1zM522 442h2v1h-2zM481 443h1v1h-1zM524 443h1v1h-1zM481 444h1v1h-1zM528 445h1v1h-1zM529 446h2v1h-2zM478 448h1v1h-1zM477 449h1v1h-1zM534 449h1v1h-1zM476 450h1v1h-1zM535 450h1v1h-1zM536 451h1v1h-1zM474 454h1v1h-1zM540 454h1v1h-1zM473 455h1v1h-1zM541 455h2v1h-2zM472 456h1v1h-1zM546 458h1v1h-1zM547 459h1v1h-1zM470 460h1v1h-1zM548 460h1v1h-1zM469 461h1v1h-1zM469 462h1v1h-1zM552 462h1v1h-1zM553 463h2v1h-2zM466 466h1v1h-1zM558 466h1v1h-1zM466 467h1v1h-1zM559 467h1v1h-1zM465 468h1v1h-1zM560 468h1v1h-1zM212 471h3v1h-3zM564 471h2v1h-2zM206 472h3v1h-3zM218 472h3v1h-3zM462 472h1v1h-1zM566 472h1v1h-1zM202 473h1v1h-1zM224 473h1v1h-1zM461 473h1v1h-1zM570 473h2v1h-2zM200 474h2v1h-2zM225 474h2v1h-2zM230 474h3v1h-3zM461 474h1v1h-1zM572 474h1v1h-1zM576 475h1v1h-1zM196 476h1v1h-1zM236 476h2v1h-2zM577 476h2v1h-2zM3 477h3v1h-3zM195 477h1v1h-1zM238 477h1v1h-1zM582 477h2v1h-2zM9 478h3v1h-3zM15 478h2v1h-2zM194 478h1v1h-1zM242 478h3v1h-3zM458 478h1v1h-1zM584 478h1v1h-1zM17 479h1v1h-1zM248 479h1v1h-1zM457 479h1v1h-1zM588 479h1v1h-1zM21 480h3v1h-3zM249 480h2v1h-2zM456 480h1v1h-1zM589 480h2v1h-2zM594 481h3v1h-3zM27 482h2v1h-2zM189 482h2v1h-2zM254 482h2v1h-2zM600 482h1v1h-1zM29 483h1v1h-1zM188 483h1v1h-1zM256 483h1v1h-1zM601 483h2v1h-2zM33 484h3v1h-3zM453 484h1v1h-1zM606 484h3v1h-3zM260 485h2v1h-2zM452 485h1v1h-1zM39 486h1v1h-1zM184 486h1v1h-1zM262 486h1v1h-1zM451 486h1v1h-1zM612 486h2v1h-2zM40 487h2v1h-2zM183 487h1v1h-1zM266 487h2v1h-2zM614 487h1v1h-1zM182 488h1v1h-1zM268 488h1v1h-1zM618 488h3v1h-3zM45 489h3v1h-3zM272 489h1v1h-1zM624 489h1v1h-1zM273 490h2v1h-2zM448 490h1v1h-1zM625 490h2v1h-2zM51 491h3v1h-3zM278 491h2v1h-2zM338 491h3v1h-3zM344 491h3v1h-3zM350 491h3v1h-3zM356 491h3v1h-3zM362 491h3v1h-3zM368 491h3v1h-3zM374 491h3v1h-3zM380 491h3v1h-3zM447 491h1v1h-1zM630 491h3v1h-3zM57 492h3v1h-3zM177 492h3v1h-3zM280 492h1v1h-1zM332 492h3v1h-3zM386 492h3v1h-3zM392 492h1v1h-1zM446 492h1v1h-1zM636 492h1v1h-1zM63 493h3v1h-3zM69 493h3v1h-3zM75 493h3v1h-3zM81 493h3v1h-3zM87 493h3v1h-3zM284 493h1v1h-1zM326 493h3v1h-3zM393 493h2v1h-2zM398 493h3v1h-3zM404 493h3v1h-3zM637 493h2v1h-2zM642 493h3v1h-3zM648 493h1v1h-1zM93 494h3v1h-3zM172 494h2v1h-2zM285 494h2v1h-2zM410 494h3v1h-3zM416 494h3v1h-3zM422 494h3v1h-3zM442 494h1v1h-1zM649 494h2v1h-2zM654 494h3v1h-3zM660 494h3v1h-3zM666 494h3v1h-3zM672 494h3v1h-3zM678 494h2v1h-2zM99 495h2v1h-2zM171 495h1v1h-1zM290 495h3v1h-3zM321 495h2v1h-2zM428 495h1v1h-1zM440 495h2v1h-2zM101 496h1v1h-1zM296 496h1v1h-1zM314 496h3v1h-3zM320 496h1v1h-1zM429 496h2v1h-2zM434 496h3v1h-3zM105 497h3v1h-3zM166 497h2v1h-2zM297 497h2v1h-2zM302 497h3v1h-3zM308 497h3v1h-3zM111 498h2v1h-2zM165 498h1v1h-1zM113 499h1v1h-1zM159 499h3v1h-3zM117 500h3v1h-3zM153 500h3v1h-3zM123 501h3v1h-3zM129 501h3v1h-3zM135 501h3v1h-3zM141 501h3v1h-3zM147 501h3v1h-3z" fill="#ff0000"/>
<path d="M445 514h7v1h-7zM443 515h2v1h-2zM452 515h1v1h-1zM443 516h1v1h-1zM453 516h1v1h-1zM165 517h4v1h-4zM299 517h1v1h-1zM442 517h1v1h-1zM454 517h1v1h-1zM163 518h2v1h-2zM169 518h3v1h-3zM298 518h1v1h-1zM300 518h1v1h-1zM442 518h1v1h-1zM455 518h1v1h-1zM163 519h1v1h-1zM172 519h1v1h-1zM298 519h1v1h-1zM301 519h2v1h-2zM351 519h1v1h-1zM441 519h1v1h-1zM456 519h1v1h-1zM162 520h1v1h-1zM173 520h1v1h-1zM297 520h1v1h-1zM303 520h1v1h-1zM351 520h2v1h-2zM441 520h1v1h-1zM457 520h1v1h-1zM162 521h1v1h-1zM174 521h1v1h-1zM296 521h1v1h-1zM304 521h1v1h-1zM350 521h1v1h-1zM353 521h1v1h-1zM440 521h1v1h-1zM458 521h1v1h-1zM161 522h1v1h-1zM175 522h1v1h-1zM296 522h1v1h-1zM305 522h2v1h-2zM350 522h1v1h-1zM353 522h1v1h-1zM440 522h1v1h-1zM459 522h1v1h-1zM575 522h1v1h-1zM123 523h1v1h-1zM161 523h1v1h-1zM176 523h2v1h-2zM295 523h1v1h-1zM307 523h1v1h-1zM349 523h1v1h-1zM354 523h1v1h-1zM439 523h1v1h-1zM460 523h1v1h-1zM485 523h3v1h-3zM495 523h1v1h-1zM573 523h2v1h-2zM576 523h1v1h-1zM121 524h2v1h-2zM124 524h1v1h-1zM160 524h1v1h-1zM178 524h2v1h-2zM295 524h1v1h-1zM308 524h1v1h-1zM349 524h1v1h-1zM355 524h1v1h-1zM439 524h1v1h-1zM461 524h2v1h-2zM483 524h2v1h-2zM488 524h1v1h-1zM494 524h1v1h-1zM496 524h1v1h-1zM572 524h1v1h-1zM577 524h2v1h-2zM53 525h3v1h-3zM120 525h1v1h-1zM124 525h1v1h-1zM160 525h1v1h-1zM180 525h1v1h-1zM295 525h1v1h-1zM309 525h1v1h-1zM349 525h1v1h-1zM356 525h1v1h-1zM439 525h1v1h-1zM463 525h1v1h-1zM481 525h2v1h-2zM488 525h1v1h-1zM494 525h1v1h-1zM497 525h1v1h-1zM571 525h1v1h-1zM579 525h1v1h-1zM51 526h2v1h-2zM56 526h2v1h-2zM119 526h1v1h-1zM125 526h1v1h-1zM159 526h1v1h-1zM180 526h1v1h-1zM294 526h1v1h-1zM310 526h1v1h-1zM348 526h1v1h-1zM357 526h1v1h-1zM438 526h1v1h-1zM464 526h1v1h-1zM480 526h1v1h-1zM489 526h1v1h-1zM493 526h1v1h-1zM498 526h1v1h-1zM569 526h2v1h-2zM579 526h1v1h-1zM51 527h1v1h-1zM58 527h2v1h-2zM119 527h1v1h-1zM126 527h1v1h-1zM159 527h1v1h-1zM181 527h1v1h-1zM294 527h1v1h-1zM311 527h1v1h-1zM348 527h1v1h-1zM357 527h1v1h-1zM438 527h1v1h-1zM465 527h1v1h-1zM479 527h1v1h-1zM490 527h1v1h-1zM492 527h1v1h-1zM499 527h1v1h-1zM568 527h1v1h-1zM580 527h1v1h-1zM50 528h1v1h-1zM60 528h1v1h-1zM118 528h1v1h-1zM126 528h1v1h-1zM159 528h1v1h-1zM182 528h1v1h-1zM294 528h1v1h-1zM312 528h2v1h-2zM347 528h1v1h-1zM358 528h1v1h-1zM437 528h1v1h-1zM466 528h1v1h-1zM478 528h1v1h-1zM490 528h1v1h-1zM492 528h1v1h-1zM500 528h2v1h-2zM567 528h1v1h-1zM580 528h1v1h-1zM635 528h1v1h-1zM50 529h1v1h-1zM60 529h1v1h-1zM118 529h1v1h-1zM127 529h1v1h-1zM158 529h1v1h-1zM182 529h1v1h-1zM294 529h1v1h-1zM314 529h2v1h-2zM347 529h1v1h-1zM359 529h1v1h-1zM437 529h1v1h-1zM467 529h1v1h-1zM477 529h1v1h-1zM491 529h1v1h-1zM502 529h2v1h-2zM565 529h2v1h-2zM580 529h1v1h-1zM633 529h2v1h-2zM636 529h1v1h-1zM49 530h1v1h-1zM61 530h1v1h-1zM118 530h1v1h-1zM127 530h1v1h-1zM158 530h1v1h-1zM183 530h1v1h-1zM294 530h1v1h-1zM316 530h1v1h-1zM346 530h1v1h-1zM359 530h1v1h-1zM436 530h1v1h-1zM468 530h1v1h-1zM476 530h1v1h-1zM504 530h1v1h-1zM564 530h1v1h-1zM581 530h1v1h-1zM632 530h1v1h-1zM637 530h2v1h-2zM49 531h1v1h-1zM62 531h1v1h-1zM118 531h1v1h-1zM128 531h1v1h-1zM158 531h1v1h-1zM184 531h1v1h-1zM294 531h1v1h-1zM316 531h1v1h-1zM346 531h1v1h-1zM360 531h1v1h-1zM391 531h5v1h-5zM436 531h1v1h-1zM468 531h1v1h-1zM475 531h1v1h-1zM504 531h1v1h-1zM562 531h2v1h-2zM581 531h1v1h-1zM631 531h1v1h-1zM639 531h1v1h-1zM49 532h1v1h-1zM62 532h1v1h-1zM117 532h1v1h-1zM128 532h1v1h-1zM158 532h1v1h-1zM184 532h1v1h-1zM293 532h1v1h-1zM317 532h1v1h-1zM345 532h1v1h-1zM360 532h1v1h-1zM390 532h1v1h-1zM395 532h1v1h-1zM435 532h1v1h-1zM469 532h1v1h-1zM474 532h1v1h-1zM505 532h1v1h-1zM555 532h2v1h-2zM560 532h2v1h-2zM581 532h1v1h-1zM631 532h1v1h-1zM639 532h1v1h-1zM679 532h1v1h-1zM3 533h1v1h-1zM48 533h1v1h-1zM63 533h1v1h-1zM117 533h1v1h-1zM129 533h1v1h-1zM157 533h1v1h-1zM185 533h1v1h-1zM293 533h1v1h-1zM317 533h1v1h-1zM344 533h1v1h-1zM360 533h1v1h-1zM389 533h1v1h-1zM396 533h1v1h-1zM435 533h1v1h-1zM469 533h1v1h-1zM473 533h1v1h-1zM505 533h1v1h-1zM554 533h1v1h-1zM557 533h3v1h-3zM582 533h1v1h-1zM631 533h1v1h-1zM640 533h1v1h-1zM679 533h1v1h-1zM4 534h1v1h-1zM48 534h1v1h-1zM63 534h1v1h-1zM117 534h1v1h-1zM129 534h1v1h-1zM157 534h1v1h-1zM185 534h1v1h-1zM293 534h1v1h-1zM318 534h1v1h-1zM344 534h1v1h-1zM360 534h1v1h-1zM389 534h1v1h-1zM396 534h1v1h-1zM435 534h1v1h-1zM470 534h1v1h-1zM473 534h1v1h-1zM506 534h1v1h-1zM553 534h1v1h-1zM582 534h1v1h-1zM630 534h1v1h-1zM640 534h1v1h-1zM678 534h1v1h-1zM5 535h1v1h-1zM47 535h1v1h-1zM64 535h1v1h-1zM117 535h1v1h-1zM130 535h1v1h-1zM157 535h1v1h-1zM186 535h1v1h-1zM293 535h1v1h-1zM318 535h1v1h-1zM343 535h1v1h-1zM361 535h1v1h-1zM388 535h1v1h-1zM396 535h1v1h-1zM434 535h1v1h-1zM470 535h1v1h-1zM472 535h1v1h-1zM506 535h1v1h-1zM553 535h1v1h-1zM582 535h1v1h-1zM630 535h1v1h-1zM640 535h1v1h-1zM678 535h1v1h-1zM6 536h1v1h-1zM47 536h1v1h-1zM64 536h1v1h-1zM116 536h1v1h-1zM130 536h1v1h-1zM156 536h1v1h-1zM186 536h1v1h-1zM231 536h1v1h-1zM293 536h1v1h-1zM319 536h1v1h-1zM343 536h1v1h-1zM361 536h1v1h-1zM387 536h1v1h-1zM397 536h1v1h-1zM434 536h1v1h-1zM471 536h1v1h-1zM507 536h1v1h-1zM552 536h1v1h-1zM583 536h1v1h-1zM630 536h1v1h-1zM641 536h1v1h-1zM678 536h1v1h-1zM7 537h1v1h-1zM46 537h1v1h-1zM64 537h1v1h-1zM116 537h1v1h-1zM131 537h1v1h-1zM156 537h1v1h-1zM187 537h1v1h-1zM230 537h1v1h-1zM232 537h1v1h-1zM292 537h1v1h-1zM319 537h1v1h-1zM342 537h1v1h-1zM361 537h1v1h-1zM387 537h1v1h-1zM397 537h1v1h-1zM434 537h1v1h-1zM508 537h1v1h-1zM551 537h1v1h-1zM583 537h1v1h-1zM630 537h1v1h-1zM641 537h1v1h-1zM677 537h1v1h-1zM7 538h1v1h-1zM46 538h1v1h-1zM65 538h1v1h-1zM116 538h1v1h-1zM131 538h2v1h-2zM156 538h1v1h-1zM187 538h1v1h-1zM230 538h1v1h-1zM233 538h1v1h-1zM292 538h1v1h-1zM320 538h1v1h-1zM342 538h1v1h-1zM362 538h1v1h-1zM387 538h1v1h-1zM397 538h1v1h-1zM434 538h1v1h-1zM508 538h1v1h-1zM551 538h1v1h-1zM583 538h1v1h-1zM629 538h1v1h-1zM641 538h1v1h-1zM677 538h1v1h-1zM8 539h1v1h-1zM45 539h1v1h-1zM65 539h1v1h-1zM116 539h1v1h-1zM133 539h3v1h-3zM156 539h1v1h-1zM188 539h1v1h-1zM229 539h1v1h-1zM234 539h1v1h-1zM292 539h1v1h-1zM321 539h1v1h-1zM342 539h1v1h-1zM362 539h1v1h-1zM386 539h1v1h-1zM397 539h1v1h-1zM433 539h1v1h-1zM509 539h1v1h-1zM550 539h1v1h-1zM584 539h1v1h-1zM629 539h1v1h-1zM642 539h1v1h-1zM676 539h1v1h-1zM8 540h1v1h-1zM45 540h1v1h-1zM66 540h1v1h-1zM115 540h1v1h-1zM135 540h1v1h-1zM155 540h1v1h-1zM188 540h1v1h-1zM229 540h1v1h-1zM235 540h1v1h-1zM292 540h1v1h-1zM321 540h1v1h-1zM342 540h1v1h-1zM362 540h1v1h-1zM386 540h1v1h-1zM398 540h1v1h-1zM433 540h1v1h-1zM509 540h1v1h-1zM550 540h1v1h-1zM584 540h1v1h-1zM629 540h1v1h-1zM642 540h1v1h-1zM676 540h1v1h-1zM8 541h1v1h-1zM44 541h1v1h-1zM66 541h1v1h-1zM115 541h1v1h-1zM136 541h1v1h-1zM155 541h1v1h-1zM188 541h1v1h-1zM228 541h1v1h-1zM235 541h1v1h-1zM292 541h1v1h-1zM322 541h1v1h-1zM341 541h1v1h-1zM362 541h1v1h-1zM386 541h1v1h-1zM398 541h1v1h-1zM433 541h1v1h-1zM510 541h1v1h-1zM549 541h1v1h-1zM584 541h1v1h-1zM629 541h1v1h-1zM642 541h1v1h-1zM676 541h1v1h-1zM9 542h1v1h-1zM44 542h1v1h-1zM66 542h1v1h-1zM115 542h1v1h-1zM136 542h1v1h-1zM155 542h1v1h-1zM189 542h1v1h-1zM228 542h1v1h-1zM235 542h1v1h-1zM292 542h1v1h-1zM323 542h1v1h-1zM341 542h1v1h-1zM363 542h1v1h-1zM386 542h1v1h-1zM398 542h1v1h-1zM432 542h1v1h-1zM510 542h1v1h-1zM549 542h1v1h-1zM585 542h1v1h-1zM628 542h1v1h-1zM643 542h1v1h-1zM675 542h1v1h-1zM9 543h1v1h-1zM43 543h1v1h-1zM67 543h1v1h-1zM115 543h1v1h-1zM136 543h1v1h-1zM155 543h1v1h-1zM189 543h1v1h-1zM227 543h1v1h-1zM236 543h1v1h-1zM291 543h1v1h-1zM324 543h1v1h-1zM341 543h1v1h-1zM363 543h1v1h-1zM386 543h1v1h-1zM399 543h1v1h-1zM432 543h1v1h-1zM511 543h1v1h-1zM549 543h1v1h-1zM585 543h1v1h-1zM628 543h1v1h-1zM643 543h1v1h-1zM675 543h1v1h-1zM9 544h1v1h-1zM43 544h1v1h-1zM67 544h1v1h-1zM114 544h1v1h-1zM137 544h1v1h-1zM154 544h1v1h-1zM189 544h1v1h-1zM227 544h1v1h-1zM236 544h1v1h-1zM291 544h1v1h-1zM324 544h1v1h-1zM340 544h1v1h-1zM364 544h1v1h-1zM385 544h1v1h-1zM399 544h1v1h-1zM432 544h1v1h-1zM512 544h1v1h-1zM548 544h1v1h-1zM585 544h1v1h-1zM628 544h1v1h-1zM644 544h1v1h-1zM675 544h1v1h-1zM9 545h1v1h-1zM42 545h1v1h-1zM67 545h1v1h-1zM114 545h1v1h-1zM137 545h1v1h-1zM154 545h1v1h-1zM189 545h1v1h-1zM195 545h1v1h-1zM226 545h1v1h-1zM236 545h1v1h-1zM291 545h1v1h-1zM325 545h1v1h-1zM340 545h1v1h-1zM365 545h2v1h-2zM385 545h1v1h-1zM399 545h1v1h-1zM432 545h1v1h-1zM512 545h1v1h-1zM548 545h1v1h-1zM585 545h1v1h-1zM628 545h1v1h-1zM644 545h1v1h-1zM675 545h1v1h-1zM10 546h1v1h-1zM42 546h1v1h-1zM68 546h1v1h-1zM114 546h1v1h-1zM138 546h1v1h-1zM154 546h1v1h-1zM190 546h1v1h-1zM194 546h1v1h-1zM196 546h1v1h-1zM226 546h1v1h-1zM236 546h1v1h-1zM291 546h1v1h-1zM325 546h1v1h-1zM340 546h1v1h-1zM367 546h1v1h-1zM385 546h1v1h-1zM400 546h1v1h-1zM431 546h1v1h-1zM513 546h1v1h-1zM547 546h1v1h-1zM586 546h1v1h-1zM591 546h1v1h-1zM627 546h1v1h-1zM645 546h1v1h-1zM674 546h1v1h-1zM10 547h1v1h-1zM41 547h1v1h-1zM68 547h1v1h-1zM114 547h1v1h-1zM138 547h1v1h-1zM154 547h1v1h-1zM190 547h1v1h-1zM193 547h1v1h-1zM197 547h2v1h-2zM226 547h1v1h-1zM237 547h1v1h-1zM290 547h1v1h-1zM326 547h1v1h-1zM340 547h1v1h-1zM368 547h1v1h-1zM385 547h1v1h-1zM400 547h1v1h-1zM415 547h1v1h-1zM431 547h1v1h-1zM513 547h1v1h-1zM547 547h1v1h-1zM586 547h1v1h-1zM590 547h1v1h-1zM592 547h2v1h-2zM627 547h1v1h-1zM645 547h1v1h-1zM674 547h1v1h-1zM10 548h1v1h-1zM41 548h1v1h-1zM68 548h1v1h-1zM114 548h1v1h-1zM138 548h1v1h-1zM153 548h1v1h-1zM190 548h1v1h-1zM193 548h1v1h-1zM199 548h5v1h-5zM226 548h1v1h-1zM237 548h1v1h-1zM290 548h1v1h-1zM326 548h1v1h-1zM339 548h1v1h-1zM368 548h1v1h-1zM385 548h1v1h-1zM400 548h1v1h-1zM414 548h1v1h-1zM416 548h1v1h-1zM431 548h1v1h-1zM514 548h1v1h-1zM546 548h1v1h-1zM586 548h1v1h-1zM589 548h1v1h-1zM594 548h2v1h-2zM627 548h1v1h-1zM646 548h1v1h-1zM653 548h3v1h-3zM674 548h1v1h-1zM11 549h1v1h-1zM41 549h1v1h-1zM69 549h1v1h-1zM113 549h1v1h-1zM139 549h1v1h-1zM153 549h1v1h-1zM191 549h2v1h-2zM204 549h1v1h-1zM225 549h1v1h-1zM237 549h1v1h-1zM289 549h1v1h-1zM327 549h1v1h-1zM339 549h1v1h-1zM369 549h1v1h-1zM385 549h1v1h-1zM401 549h1v1h-1zM414 549h1v1h-1zM416 549h1v1h-1zM430 549h1v1h-1zM514 549h1v1h-1zM546 549h1v1h-1zM587 549h2v1h-2zM596 549h1v1h-1zM625 549h2v1h-2zM646 549h1v1h-1zM649 549h4v1h-4zM656 549h1v1h-1zM674 549h1v1h-1zM11 550h1v1h-1zM40 550h1v1h-1zM69 550h1v1h-1zM113 550h1v1h-1zM139 550h1v1h-1zM153 550h1v1h-1zM191 550h1v1h-1zM204 550h1v1h-1zM225 550h1v1h-1zM237 550h1v1h-1zM289 550h1v1h-1zM327 550h2v1h-2zM338 550h1v1h-1zM369 550h1v1h-1zM384 550h1v1h-1zM401 550h1v1h-1zM413 550h1v1h-1zM417 550h1v1h-1zM430 550h1v1h-1zM515 550h2v1h-2zM545 550h1v1h-1zM587 550h1v1h-1zM596 550h1v1h-1zM603 550h1v1h-1zM624 550h1v1h-1zM647 550h2v1h-2zM657 550h1v1h-1zM674 550h1v1h-1zM11 551h1v1h-1zM40 551h1v1h-1zM69 551h1v1h-1zM113 551h1v1h-1zM140 551h1v1h-1zM153 551h1v1h-1zM205 551h1v1h-1zM225 551h1v1h-1zM237 551h1v1h-1zM289 551h1v1h-1zM329 551h3v1h-3zM337 551h1v1h-1zM370 551h1v1h-1zM384 551h1v1h-1zM401 551h1v1h-1zM412 551h1v1h-1zM417 551h1v1h-1zM429 551h1v1h-1zM517 551h7v1h-7zM544 551h1v1h-1zM597 551h1v1h-1zM602 551h2v1h-2zM622 551h2v1h-2zM657 551h1v1h-1zM674 551h1v1h-1zM11 552h1v1h-1zM39 552h1v1h-1zM69 552h1v1h-1zM113 552h1v1h-1zM140 552h1v1h-1zM152 552h1v1h-1zM205 552h1v1h-1zM225 552h1v1h-1zM238 552h1v1h-1zM288 552h1v1h-1zM332 552h2v1h-2zM336 552h1v1h-1zM370 552h1v1h-1zM384 552h1v1h-1zM401 552h1v1h-1zM412 552h1v1h-1zM418 552h1v1h-1zM429 552h1v1h-1zM524 552h1v1h-1zM544 552h1v1h-1zM597 552h1v1h-1zM601 552h1v1h-1zM604 552h1v1h-1zM620 552h2v1h-2zM658 552h1v1h-1zM673 552h1v1h-1zM12 553h1v1h-1zM39 553h1v1h-1zM70 553h1v1h-1zM113 553h1v1h-1zM141 553h1v1h-1zM152 553h1v1h-1zM206 553h1v1h-1zM224 553h1v1h-1zM238 553h1v1h-1zM288 553h1v1h-1zM334 553h2v1h-2zM371 553h1v1h-1zM384 553h1v1h-1zM402 553h1v1h-1zM411 553h1v1h-1zM418 553h1v1h-1zM429 553h1v1h-1zM524 553h1v1h-1zM543 553h1v1h-1zM598 553h1v1h-1zM601 553h1v1h-1zM604 553h1v1h-1zM619 553h1v1h-1zM659 553h1v1h-1zM673 553h1v1h-1zM12 554h1v1h-1zM39 554h1v1h-1zM70 554h1v1h-1zM113 554h1v1h-1zM141 554h1v1h-1zM152 554h1v1h-1zM206 554h1v1h-1zM224 554h1v1h-1zM238 554h1v1h-1zM287 554h1v1h-1zM371 554h1v1h-1zM384 554h1v1h-1zM402 554h1v1h-1zM410 554h1v1h-1zM419 554h2v1h-2zM428 554h1v1h-1zM525 554h1v1h-1zM542 554h1v1h-1zM598 554h1v1h-1zM600 554h1v1h-1zM604 554h1v1h-1zM618 554h1v1h-1zM659 554h1v1h-1zM673 554h1v1h-1zM12 555h1v1h-1zM38 555h1v1h-1zM70 555h1v1h-1zM112 555h1v1h-1zM142 555h1v1h-1zM152 555h1v1h-1zM207 555h1v1h-1zM224 555h1v1h-1zM238 555h1v1h-1zM271 555h6v1h-6zM287 555h1v1h-1zM371 555h1v1h-1zM383 555h1v1h-1zM402 555h1v1h-1zM409 555h1v1h-1zM421 555h3v1h-3zM428 555h1v1h-1zM526 555h1v1h-1zM542 555h1v1h-1zM599 555h1v1h-1zM605 555h1v1h-1zM611 555h1v1h-1zM617 555h1v1h-1zM660 555h1v1h-1zM673 555h1v1h-1zM12 556h1v1h-1zM38 556h1v1h-1zM71 556h1v1h-1zM112 556h1v1h-1zM142 556h1v1h-1zM151 556h1v1h-1zM208 556h1v1h-1zM224 556h1v1h-1zM239 556h1v1h-1zM271 556h1v1h-1zM277 556h3v1h-3zM287 556h1v1h-1zM372 556h1v1h-1zM383 556h1v1h-1zM403 556h1v1h-1zM408 556h1v1h-1zM424 556h2v1h-2zM427 556h1v1h-1zM526 556h1v1h-1zM541 556h1v1h-1zM605 556h1v1h-1zM610 556h1v1h-1zM612 556h1v1h-1zM617 556h1v1h-1zM660 556h1v1h-1zM673 556h1v1h-1zM13 557h1v1h-1zM37 557h1v1h-1zM71 557h1v1h-1zM112 557h1v1h-1zM143 557h1v1h-1zM151 557h1v1h-1zM208 557h1v1h-1zM223 557h1v1h-1zM239 557h1v1h-1zM270 557h1v1h-1zM280 557h1v1h-1zM286 557h1v1h-1zM372 557h1v1h-1zM383 557h1v1h-1zM403 557h5v1h-5zM426 557h2v1h-2zM527 557h1v1h-1zM540 557h1v1h-1zM605 557h1v1h-1zM610 557h1v1h-1zM613 557h2v1h-2zM616 557h1v1h-1zM661 557h1v1h-1zM672 557h1v1h-1zM13 558h1v1h-1zM37 558h1v1h-1zM71 558h1v1h-1zM112 558h1v1h-1zM143 558h1v1h-1zM151 558h1v1h-1zM209 558h1v1h-1zM223 558h1v1h-1zM239 558h1v1h-1zM270 558h1v1h-1zM280 558h1v1h-1zM286 558h1v1h-1zM373 558h1v1h-1zM382 558h1v1h-1zM527 558h1v1h-1zM540 558h1v1h-1zM606 558h1v1h-1zM609 558h1v1h-1zM615 558h1v1h-1zM661 558h1v1h-1zM672 558h1v1h-1zM13 559h1v1h-1zM36 559h1v1h-1zM72 559h1v1h-1zM112 559h1v1h-1zM143 559h1v1h-1zM151 559h1v1h-1zM210 559h1v1h-1zM223 559h1v1h-1zM239 559h1v1h-1zM269 559h1v1h-1zM281 559h1v1h-1zM285 559h1v1h-1zM373 559h1v1h-1zM382 559h1v1h-1zM528 559h1v1h-1zM539 559h1v1h-1zM606 559h1v1h-1zM609 559h1v1h-1zM661 559h1v1h-1zM672 559h1v1h-1zM13 560h1v1h-1zM36 560h1v1h-1zM72 560h1v1h-1zM111 560h1v1h-1zM144 560h1v1h-1zM150 560h1v1h-1zM210 560h1v1h-1zM222 560h1v1h-1zM240 560h1v1h-1zM269 560h1v1h-1zM281 560h1v1h-1zM285 560h1v1h-1zM373 560h1v1h-1zM381 560h1v1h-1zM528 560h1v1h-1zM538 560h1v1h-1zM606 560h1v1h-1zM608 560h1v1h-1zM662 560h1v1h-1zM672 560h1v1h-1zM14 561h1v1h-1zM35 561h1v1h-1zM72 561h1v1h-1zM111 561h1v1h-1zM144 561h1v1h-1zM150 561h1v1h-1zM211 561h1v1h-1zM222 561h1v1h-1zM240 561h1v1h-1zM268 561h1v1h-1zM282 561h1v1h-1zM284 561h1v1h-1zM374 561h1v1h-1zM381 561h1v1h-1zM529 561h1v1h-1zM538 561h1v1h-1zM607 561h2v1h-2zM662 561h1v1h-1zM672 561h1v1h-1zM14 562h1v1h-1zM34 562h1v1h-1zM72 562h1v1h-1zM87 562h1v1h-1zM97 562h3v1h-3zM111 562h1v1h-1zM145 562h1v1h-1zM149 562h1v1h-1zM212 562h1v1h-1zM222 562h1v1h-1zM240 562h1v1h-1zM268 562h1v1h-1zM282 562h1v1h-1zM284 562h1v1h-1zM374 562h1v1h-1zM380 562h1v1h-1zM529 562h1v1h-1zM537 562h1v1h-1zM607 562h1v1h-1zM663 562h1v1h-1zM672 562h1v1h-1zM14 563h1v1h-1zM34 563h1v1h-1zM73 563h1v1h-1zM85 563h2v1h-2zM88 563h2v1h-2zM93 563h4v1h-4zM100 563h2v1h-2zM110 563h1v1h-1zM145 563h1v1h-1zM149 563h1v1h-1zM213 563h1v1h-1zM221 563h1v1h-1zM241 563h1v1h-1zM266 563h2v1h-2zM283 563h1v1h-1zM375 563h1v1h-1zM380 563h1v1h-1zM529 563h1v1h-1zM536 563h1v1h-1zM663 563h1v1h-1zM671 563h1v1h-1zM14 564h1v1h-1zM33 564h1v1h-1zM73 564h1v1h-1zM84 564h1v1h-1zM90 564h3v1h-3zM102 564h2v1h-2zM109 564h1v1h-1zM146 564h1v1h-1zM148 564h1v1h-1zM213 564h1v1h-1zM221 564h1v1h-1zM241 564h1v1h-1zM264 564h2v1h-2zM375 564h5v1h-5zM530 564h1v1h-1zM536 564h1v1h-1zM663 564h1v1h-1zM671 564h1v1h-1zM15 565h1v1h-1zM33 565h1v1h-1zM73 565h1v1h-1zM83 565h1v1h-1zM104 565h2v1h-2zM108 565h1v1h-1zM146 565h1v1h-1zM148 565h1v1h-1zM214 565h1v1h-1zM220 565h1v1h-1zM241 565h1v1h-1zM263 565h1v1h-1zM530 565h1v1h-1zM534 565h2v1h-2zM664 565h1v1h-1zM671 565h1v1h-1zM15 566h1v1h-1zM32 566h1v1h-1zM74 566h1v1h-1zM82 566h1v1h-1zM106 566h2v1h-2zM147 566h1v1h-1zM215 566h1v1h-1zM220 566h1v1h-1zM241 566h1v1h-1zM262 566h1v1h-1zM531 566h3v1h-3zM664 566h1v1h-1zM670 566h1v1h-1zM15 567h1v1h-1zM32 567h1v1h-1zM74 567h1v1h-1zM81 567h1v1h-1zM147 567h1v1h-1zM216 567h1v1h-1zM220 567h1v1h-1zM242 567h1v1h-1zM262 567h1v1h-1zM531 567h1v1h-1zM665 567h1v1h-1zM670 567h1v1h-1zM16 568h1v1h-1zM31 568h1v1h-1zM74 568h1v1h-1zM80 568h1v1h-1zM217 568h3v1h-3zM242 568h1v1h-1zM261 568h1v1h-1zM665 568h1v1h-1zM669 568h1v1h-1zM17 569h1v1h-1zM30 569h1v1h-1zM74 569h1v1h-1zM78 569h2v1h-2zM219 569h1v1h-1zM242 569h1v1h-1zM261 569h1v1h-1zM666 569h1v1h-1zM669 569h1v1h-1zM17 570h1v1h-1zM29 570h1v1h-1zM75 570h3v1h-3zM243 570h1v1h-1zM260 570h1v1h-1zM666 570h1v1h-1zM668 570h1v1h-1zM18 571h1v1h-1zM29 571h1v1h-1zM75 571h1v1h-1zM243 571h1v1h-1zM255 571h2v1h-2zM260 571h1v1h-1zM667 571h2v1h-2zM19 572h1v1h-1zM28 572h1v1h-1zM244 572h2v1h-2zM253 572h2v1h-2zM257 572h3v1h-3zM667 572h1v1h-1zM20 573h1v1h-1zM26 573h2v1h-2zM246 573h3v1h-3zM252 573h1v1h-1zM21 574h2v1h-2zM24 574h2v1h-2zM249 574h3v1h-3zM23 575h1v1h-1z" fill="#20b2aa"/>
<path d="M451 514h1v1h-1zM450 515h1v1h-1zM455 515h1v1h-1zM449 516h1v1h-1zM456 516h1v1h-1zM457 517h1v1h-1zM171 518h1v1h-1zM169 519h2v1h-2zM175 519h1v1h-1zM176 520h2v1h-2zM305 520h2v1h-2zM446 520h1v1h-1zM461 520h1v1h-1zM304 521h1v1h-1zM445 521h1v1h-1zM462 521h1v1h-1zM310 522h1v1h-1zM445 522h1v1h-1zM463 522h1v1h-1zM165 523h1v1h-1zM181 523h1v1h-1zM311 523h1v1h-1zM165 524h1v1h-1zM182 524h1v1h-1zM301 524h1v1h-1zM312 524h1v1h-1zM355 524h2v1h-2zM485 524h1v1h-1zM489 524h3v1h-3zM495 524h1v1h-1zM164 525h1v1h-1zM183 525h1v1h-1zM300 525h1v1h-1zM354 525h1v1h-1zM483 525h2v1h-2zM496 525h2v1h-2zM574 525h2v1h-2zM579 525h1v1h-1zM59 526h1v1h-1zM127 526h1v1h-1zM300 526h1v1h-1zM360 526h1v1h-1zM443 526h1v1h-1zM466 526h1v1h-1zM501 526h3v1h-3zM573 526h1v1h-1zM580 526h1v1h-1zM60 527h1v1h-1zM128 527h1v1h-1zM360 527h1v1h-1zM442 527h1v1h-1zM467 527h1v1h-1zM580 527h1v1h-1zM61 528h1v1h-1zM129 528h1v1h-1zM316 528h1v1h-1zM361 528h1v1h-1zM442 528h1v1h-1zM468 528h1v1h-1zM568 528h2v1h-2zM55 529h1v1h-1zM162 529h1v1h-1zM186 529h1v1h-1zM316 529h1v1h-1zM351 529h1v1h-1zM480 529h1v1h-1zM567 529h1v1h-1zM54 530h1v1h-1zM125 530h1v1h-1zM161 530h1v1h-1zM186 530h1v1h-1zM298 530h1v1h-1zM317 530h1v1h-1zM350 530h1v1h-1zM478 530h2v1h-2zM506 530h1v1h-1zM54 531h1v1h-1zM64 531h1v1h-1zM124 531h1v1h-1zM132 531h1v1h-1zM161 531h1v1h-1zM187 531h1v1h-1zM298 531h1v1h-1zM350 531h1v1h-1zM472 531h3v1h-3zM506 531h1v1h-1zM563 531h1v1h-1zM583 531h1v1h-1zM639 531h1v1h-1zM65 532h1v1h-1zM124 532h1v1h-1zM133 532h1v1h-1zM297 532h1v1h-1zM363 532h1v1h-1zM440 532h1v1h-1zM507 532h1v1h-1zM561 532h2v1h-2zM584 532h1v1h-1zM638 532h1v1h-1zM66 533h1v1h-1zM134 533h1v1h-1zM363 533h1v1h-1zM439 533h1v1h-1zM584 533h1v1h-1zM637 533h1v1h-1zM320 534h1v1h-1zM364 534h1v1h-1zM396 534h1v1h-1zM439 534h1v1h-1zM3 535h3v1h-3zM52 535h1v1h-1zM159 535h1v1h-1zM189 535h1v1h-1zM320 535h1v1h-1zM348 535h1v1h-1zM397 535h1v1h-1zM642 535h1v1h-1zM51 536h1v1h-1zM122 536h1v1h-1zM159 536h1v1h-1zM190 536h1v1h-1zM296 536h1v1h-1zM321 536h1v1h-1zM347 536h1v1h-1zM394 536h1v1h-1zM398 536h1v1h-1zM510 536h1v1h-1zM558 536h1v1h-1zM643 536h1v1h-1zM9 537h1v1h-1zM51 537h1v1h-1zM68 537h1v1h-1zM121 537h1v1h-1zM136 537h1v1h-1zM158 537h1v1h-1zM190 537h1v1h-1zM296 537h1v1h-1zM347 537h1v1h-1zM393 537h1v1h-1zM511 537h1v1h-1zM557 537h1v1h-1zM587 537h1v1h-1zM634 537h1v1h-1zM644 537h1v1h-1zM10 538h1v1h-1zM68 538h1v1h-1zM121 538h1v1h-1zM137 538h1v1h-1zM295 538h1v1h-1zM366 538h1v1h-1zM393 538h1v1h-1zM438 538h1v1h-1zM512 538h1v1h-1zM556 538h1v1h-1zM588 538h1v1h-1zM633 538h1v1h-1zM11 539h1v1h-1zM68 539h1v1h-1zM137 539h1v1h-1zM366 539h1v1h-1zM437 539h1v1h-1zM588 539h1v1h-1zM632 539h1v1h-1zM324 540h1v1h-1zM367 540h1v1h-1zM400 540h1v1h-1zM437 540h1v1h-1zM49 541h1v1h-1zM157 541h1v1h-1zM193 541h1v1h-1zM235 541h1v1h-1zM324 541h1v1h-1zM345 541h1v1h-1zM401 541h1v1h-1zM646 541h1v1h-1zM48 542h1v1h-1zM119 542h1v1h-1zM157 542h1v1h-1zM193 542h1v1h-1zM236 542h1v1h-1zM294 542h1v1h-1zM325 542h1v1h-1zM344 542h1v1h-1zM391 542h1v1h-1zM401 542h1v1h-1zM514 542h1v1h-1zM554 542h1v1h-1zM646 542h1v1h-1zM13 543h1v1h-1zM48 543h1v1h-1zM70 543h1v1h-1zM119 543h1v1h-1zM139 543h1v1h-1zM157 543h1v1h-1zM194 543h1v1h-1zM236 543h1v1h-1zM294 543h1v1h-1zM344 543h1v1h-1zM390 543h1v1h-1zM515 543h1v1h-1zM553 543h1v1h-1zM591 543h1v1h-1zM630 543h1v1h-1zM647 543h1v1h-1zM13 544h1v1h-1zM70 544h1v1h-1zM118 544h1v1h-1zM140 544h1v1h-1zM294 544h1v1h-1zM369 544h1v1h-1zM390 544h1v1h-1zM436 544h1v1h-1zM516 544h1v1h-1zM553 544h1v1h-1zM592 544h1v1h-1zM630 544h1v1h-1zM13 545h1v1h-1zM71 545h1v1h-1zM140 545h1v1h-1zM232 545h1v1h-1zM369 545h1v1h-1zM435 545h1v1h-1zM593 545h1v1h-1zM629 545h1v1h-1zM198 546h1v1h-1zM232 546h1v1h-1zM328 546h1v1h-1zM370 546h1v1h-1zM403 546h1v1h-1zM435 546h1v1h-1zM46 547h1v1h-1zM155 547h1v1h-1zM199 547h2v1h-2zM231 547h1v1h-1zM239 547h1v1h-1zM329 547h2v1h-2zM341 547h1v1h-1zM403 547h1v1h-1zM651 547h1v1h-1zM679 547h1v1h-1zM46 548h1v1h-1zM117 548h1v1h-1zM155 548h1v1h-1zM204 548h1v1h-1zM239 548h1v1h-1zM292 548h1v1h-1zM340 548h1v1h-1zM388 548h1v1h-1zM404 548h1v1h-1zM519 548h1v1h-1zM550 548h1v1h-1zM652 548h2v1h-2zM679 548h1v1h-1zM15 549h1v1h-1zM45 549h1v1h-1zM72 549h1v1h-1zM117 549h1v1h-1zM142 549h1v1h-1zM155 549h1v1h-1zM205 549h1v1h-1zM240 549h1v1h-1zM292 549h1v1h-1zM340 549h1v1h-1zM387 549h1v1h-1zM520 549h2v1h-2zM550 549h1v1h-1zM596 549h2v1h-2zM627 549h1v1h-1zM15 550h1v1h-1zM73 550h1v1h-1zM117 550h1v1h-1zM143 550h1v1h-1zM205 550h1v1h-1zM292 550h1v1h-1zM372 550h1v1h-1zM387 550h1v1h-1zM432 550h1v1h-1zM549 550h1v1h-1zM598 550h1v1h-1zM626 550h1v1h-1zM657 550h3v1h-3zM16 551h1v1h-1zM73 551h1v1h-1zM143 551h1v1h-1zM229 551h1v1h-1zM334 551h1v1h-1zM336 551h1v1h-1zM372 551h1v1h-1zM418 551h3v1h-3zM431 551h1v1h-1zM602 551h2v1h-2zM625 551h1v1h-1zM229 552h1v1h-1zM335 552h1v1h-1zM373 552h1v1h-1zM406 552h1v1h-1zM430 552h1v1h-1zM525 552h1v1h-1zM604 552h1v1h-1zM678 552h1v1h-1zM43 553h1v1h-1zM153 553h1v1h-1zM229 553h1v1h-1zM241 553h1v1h-1zM407 553h1v1h-1zM413 553h2v1h-2zM424 553h1v1h-1zM526 553h1v1h-1zM677 553h1v1h-1zM42 554h1v1h-1zM115 554h1v1h-1zM152 554h1v1h-1zM208 554h1v1h-1zM242 554h1v1h-1zM290 554h1v1h-1zM385 554h1v1h-1zM408 554h1v1h-1zM412 554h1v1h-1zM425 554h2v1h-2zM527 554h1v1h-1zM547 554h1v1h-1zM622 554h1v1h-1zM662 554h1v1h-1zM677 554h1v1h-1zM17 555h1v1h-1zM42 555h1v1h-1zM75 555h1v1h-1zM115 555h1v1h-1zM145 555h1v1h-1zM152 555h1v1h-1zM209 555h1v1h-1zM242 555h1v1h-1zM289 555h1v1h-1zM384 555h1v1h-1zM546 555h1v1h-1zM608 555h1v1h-1zM620 555h2v1h-2zM663 555h1v1h-1zM17 556h1v1h-1zM75 556h1v1h-1zM114 556h1v1h-1zM145 556h1v1h-1zM210 556h1v1h-1zM277 556h3v1h-3zM289 556h1v1h-1zM375 556h1v1h-1zM384 556h1v1h-1zM546 556h1v1h-1zM609 556h2v1h-2zM664 556h1v1h-1zM17 557h1v1h-1zM76 557h1v1h-1zM145 557h1v1h-1zM227 557h1v1h-1zM375 557h1v1h-1zM614 557h3v1h-3zM227 558h1v1h-1zM283 558h3v1h-3zM376 558h1v1h-1zM530 558h1v1h-1zM676 558h1v1h-1zM40 559h1v1h-1zM149 559h1v1h-1zM226 559h1v1h-1zM243 559h1v1h-1zM273 559h1v1h-1zM531 559h1v1h-1zM676 559h1v1h-1zM39 560h1v1h-1zM112 560h1v1h-1zM148 560h1v1h-1zM213 560h1v1h-1zM244 560h1v1h-1zM272 560h1v1h-1zM381 560h1v1h-1zM532 560h1v1h-1zM544 560h1v1h-1zM666 560h1v1h-1zM675 560h1v1h-1zM19 561h1v1h-1zM38 561h1v1h-1zM77 561h1v1h-1zM112 561h1v1h-1zM147 561h1v1h-1zM213 561h1v1h-1zM244 561h1v1h-1zM271 561h1v1h-1zM380 561h1v1h-1zM542 561h2v1h-2zM666 561h1v1h-1zM19 562h1v1h-1zM78 562h1v1h-1zM111 562h1v1h-1zM214 562h1v1h-1zM379 562h1v1h-1zM667 562h1v1h-1zM19 563h1v1h-1zM78 563h1v1h-1zM93 563h3v1h-3zM99 563h3v1h-3zM224 563h1v1h-1zM536 563h3v1h-3zM88 564h2v1h-2zM105 564h3v1h-3zM224 564h1v1h-1zM673 564h1v1h-1zM36 565h1v1h-1zM87 565h1v1h-1zM218 565h3v1h-3zM223 565h1v1h-1zM246 565h1v1h-1zM268 565h1v1h-1zM672 565h1v1h-1zM36 566h1v1h-1zM246 566h1v1h-1zM267 566h1v1h-1zM671 566h1v1h-1zM21 567h1v1h-1zM35 567h1v1h-1zM81 567h1v1h-1zM246 567h1v1h-1zM266 567h1v1h-1zM21 568h1v1h-1zM82 568h1v1h-1zM22 569h1v1h-1zM83 569h1v1h-1zM32 571h1v1h-1zM249 571h1v1h-1zM262 571h2v1h-2zM30 572h2v1h-2zM250 572h1v1h-1zM261 572h1v1h-1zM24 573h2v1h-2zM251 573h1v1h-1zM255 573h3v1h-3zM26 574h1v1h-1z" fill="#ff0000"/>
<rect x="2" y="2" width="706" height="1" fill="#000"/>
<rect x="2" y="428" width="706" height="1" fill="#000"/>
<rect x="2" y="2" width="1" height="427" fill="#000"/>
<rect x="707" y="2" width="1" height="427" fill="#000"/>
<rect x="2" y="430" width="706" height="1" fill="#000"/>
<rect x="2" y="507" width="706" height="1" fill="#000"/>
<rect x="2" y="430" width="1" height="78" fill="#000"/>
<rect x="707" y="430" width="1" height="78" fill="#000"/>
<rect x="2" y="509" width="706" height="1" fill="#000"/>
<rect x="2" y="582" width="706" height="1" fill="#000"/>
<rect x="2" y="509" width="1" height="74" fill="#000"/>
<rect x="707" y="509" width="1" height="74" fill="#000"/>
<rect x="708" y="29" width="2" height="1" fill="#000"/>
<text x="713.7" y="32" font-size="9.8" fill="#000" stroke="#000" stroke-width="0.25" textLength="31.5" lengthAdjust="spacingAndGlyphs">1.35635</text>
<rect x="708" y="62" width="2" height="1" fill="#000"/>
<text x="713.7" y="65" font-size="9.8" fill="#000" stroke="#000" stroke-width="0.25" textLength="31.5" lengthAdjust="spacingAndGlyphs">1.35370</text>
<rect x="708" y="359" width="2" height="1" fill="#000"/>
<text x="713.7" y="362" font-size="9.8" fill="#000" stroke="#000" stroke-width="0.25" textLength="31.5" lengthAdjust="spacingAndGlyphs">1.32995</text>
<rect x="708" y="95" width="2" height="1" fill="#000"/>
<text x="713.7" y="98" font-size="9.8" fill="#000" stroke="#000" stroke-width="0.25" textLength="31.5" lengthAdjust="spacingAndGlyphs">1.35105</text>
<rect x="708" y="128" width="2" height="1" fill="#000"/>
<text x="713.7" y="131" font-size="9.8" fill="#000" stroke="#000" stroke-width="0.25" textLength="31.5" lengthAdjust="spacingAndGlyphs">1.34845</text>
<rect x="708" y="161" width="2" height="1" fill="#000"/>
<text x="713.7" y="164" font-size="9.8" fill="#000" stroke="#000" stroke-width="0.25" textLength="31.5" lengthAdjust="spacingAndGlyphs">1.34580</text>
<rect x="708" y="194" width="2" height="1" fill="#000"/>
<text x="713.7" y="197" font-size="9.8" fill="#000" stroke="#000" stroke-width="0.25" textLength="31.5" lengthAdjust="spacingAndGlyphs">1.34315</text>
<rect x="708" y="227" width="2" height="1" fill="#000"/>
<text x="713.7" y="230" font-size="9.8" fill="#000" stroke="#000" stroke-width="0.25" textLength="31.5" lengthAdjust="spacingAndGlyphs">1.34050</text>
<rect x="708" y="260" width="2" height="1" fill="#000"/>
<text x="713.7" y="263" font-size="9.8" fill="#000" stroke="#000" stroke-width="0.25" textLength="31.5" lengthAdjust="spacingAndGlyphs">1.33790</text>
<rect x="708" y="293" width="2" height="1" fill="#000"/>
<text x="713.7" y="296" font-size="9.8" fill="#000" stroke="#000" stroke-width="0.25" textLength="31.5" lengthAdjust="spacingAndGlyphs">1.33525</text>
<rect x="708" y="326" width="2" height="1" fill="#000"/>
<text x="713.7" y="329" font-size="9.8" fill="#000" stroke="#000" stroke-width="0.25" textLength="31.5" lengthAdjust="spacingAndGlyphs">1.33260</text>
<rect x="708" y="392" width="2" height="1" fill="#000"/>
<text x="713.7" y="395" font-size="9.8" fill="#000" stroke="#000" stroke-width="0.25" textLength="31.5" lengthAdjust="spacingAndGlyphs">1.32730</text>
<rect x="708" y="425" width="2" height="1" fill="#000"/>
<text x="713.7" y="428" font-size="9.8" fill="#000" stroke="#000" stroke-width="0.25" textLength="31.5" lengthAdjust="spacingAndGlyphs">1.32470</text>
<rect x="710" y="53" width="39" height="11" fill="#000"/>
<text x="713.7" y="62" font-size="9.8" fill="#fff" stroke="#fff" stroke-width="0.25" textLength="31.5" lengthAdjust="spacingAndGlyphs">1.35398</text>
<rect x="710" y="164" width="39" height="11" fill="#ff0000"/>
<text x="713.7" y="173" font-size="9.8" fill="#fff" stroke="#fff" stroke-width="0.25" textLength="31.5" lengthAdjust="spacingAndGlyphs">1.34505</text>
<rect x="710" y="207" width="39" height="11" fill="#ff0000"/>
<text x="713.7" y="216" font-size="9.8" fill="#fff" stroke="#fff" stroke-width="0.25" textLength="31.5" lengthAdjust="spacingAndGlyphs">1.34165</text>
<rect x="710" y="326" width="39" height="11" fill="#ff0000"/>
<text x="713.7" y="335" font-size="9.8" fill="#fff" stroke="#fff" stroke-width="0.25" textLength="31.5" lengthAdjust="spacingAndGlyphs">1.33210</text>
<rect x="710" y="352" width="39" height="11" fill="#ff0000"/>
<text x="713.7" y="361" font-size="9.8" fill="#fff" stroke="#fff" stroke-width="0.25" textLength="31.5" lengthAdjust="spacingAndGlyphs">1.33005</text>
<rect x="708" y="431" width="1" height="1" fill="#000"/>
<text x="710.6" y="441" font-size="9.8" fill="#000" stroke="#000" stroke-width="0.25" textLength="37.2" lengthAdjust="spacingAndGlyphs">0.005038</text>
<rect x="708" y="496" width="2" height="1" fill="#000"/>
<text x="710.8" y="499" font-size="9.8" fill="#000" stroke="#000" stroke-width="0.25" textLength="17.1" lengthAdjust="spacingAndGlyphs">0.00</text>
<rect x="708" y="506" width="2" height="1" fill="#000"/>
<text x="710.8" y="504" font-size="9.8" fill="#000" stroke="#000" stroke-width="0.25" textLength="41.6" lengthAdjust="spacingAndGlyphs">-0.000786</text>
<rect x="708" y="511" width="2" height="1" fill="#000"/>
<text x="711.8" y="520" font-size="9.8" fill="#000" stroke="#000" stroke-width="0.25" textLength="13.1" lengthAdjust="spacingAndGlyphs">100</text>
<rect x="708" y="525" width="2" height="1" fill="#000"/>
<text x="710" y="528" font-size="9.8" fill="#000" stroke="#000" stroke-width="0.25" textLength="9" lengthAdjust="spacingAndGlyphs">80</text>
<rect x="708" y="567" width="2" height="1" fill="#000"/>
<text x="709.8" y="570" font-size="9.8" fill="#000" stroke="#000" stroke-width="0.25" textLength="9.1" lengthAdjust="spacingAndGlyphs">20</text>
<rect x="708" y="581" width="2" height="1" fill="#000"/>
<text x="710.8" y="579" font-size="9.8" fill="#000" stroke="#000" stroke-width="0.25" textLength="4.1" lengthAdjust="spacingAndGlyphs">0</text>
<rect x="3" y="583" width="1" height="3" fill="#000"/>
<text x="2.7" y="595" font-size="9.8" fill="#000" stroke="#000" stroke-width="0.25" textLength="50.4" lengthAdjust="spacingAndGlyphs">12 Sep 2013</text>
<rect x="67" y="583" width="1" height="3" fill="#000"/>
<text x="66.4" y="595" font-size="9.8" fill="#000" stroke="#000" stroke-width="0.25" textLength="53.9" lengthAdjust="spacingAndGlyphs">12 Sep 21:00</text>
<rect x="131" y="583" width="1" height="3" fill="#000"/>
<text x="130.4" y="595" font-size="9.8" fill="#000" stroke="#000" stroke-width="0.25" textLength="53.9" lengthAdjust="spacingAndGlyphs">13 Sep 13:00</text>
<rect x="195" y="583" width="1" height="3" fill="#000"/>
<text x="194.4" y="595" font-size="9.8" fill="#000" stroke="#000" stroke-width="0.25" textLength="53.9" lengthAdjust="spacingAndGlyphs">16 Sep 06:00</text>
<rect x="259" y="583" width="1" height="3" fill="#000"/>
<text x="258.4" y="595" font-size="9.8" fill="#000" stroke="#000" stroke-width="0.25" textLength="53.9" lengthAdjust="spacingAndGlyphs">16 Sep 22:00</text>
<rect x="323" y="583" width="1" height="3" fill="#000"/>
<text x="322.4" y="595" font-size="9.8" fill="#000" stroke="#000" stroke-width="0.25" textLength="53.9" lengthAdjust="spacingAndGlyphs">17 Sep 14:00</text>
<rect x="387" y="583" width="1" height="3" fill="#000"/>
<text x="386.4" y="595" font-size="9.8" fill="#000" stroke="#000" stroke-width="0.25" textLength="53.9" lengthAdjust="spacingAndGlyphs">18 Sep 06:00</text>
<rect x="451" y="583" width="1" height="3" fill="#000"/>
<text x="450.4" y="595" font-size="9.8" fill="#000" stroke="#000" stroke-width="0.25" textLength="53.9" lengthAdjust="spacingAndGlyphs">18 Sep 22:00</text>
<rect x="515" y="583" width="1" height="3" fill="#000"/>
<text x="514.4" y="595" font-size="9.8" fill="#000" stroke="#000" stroke-width="0.25" textLength="53.9" lengthAdjust="spacingAndGlyphs">19 Sep 14:00</text>
<rect x="579" y="583" width="1" height="3" fill="#000"/>
<text x="578.4" y="595" font-size="9.8" fill="#000" stroke="#000" stroke-width="0.25" textLength="53.9" lengthAdjust="spacingAndGlyphs">20 Sep 06:00</text>
<rect x="643" y="583" width="1" height="3" fill="#000"/>
<text x="642.4" y="595" font-size="9.8" fill="#000" stroke="#000" stroke-width="0.25" textLength="53.9" lengthAdjust="spacingAndGlyphs">22 Sep 23:00</text>
<rect x="4" y="5" width="216" height="11" fill="#fff"/>
<polygon points="6,9 13,9 9.5,12.8" fill="#000" shape-rendering="auto"/>
<text x="17.6" y="14" font-size="9.8" fill="#000" stroke="#000" stroke-width="0.25" textLength="52.9" lengthAdjust="spacingAndGlyphs">EURUSD,H1</text>
<text x="78.4" y="14" font-size="9.8" fill="#000" stroke="#000" stroke-width="0.25" textLength="31.8" lengthAdjust="spacingAndGlyphs">1.35348</text>
<text x="114.2" y="14" font-size="9.8" fill="#000" stroke="#000" stroke-width="0.25" textLength="32.1" lengthAdjust="spacingAndGlyphs">1.35438</text>
<text x="150.3" y="14" font-size="9.8" fill="#000" stroke="#000" stroke-width="0.25" textLength="31.1" lengthAdjust="spacingAndGlyphs">1.35326</text>
<text x="186.3" y="14" font-size="9.8" fill="#000" stroke="#000" stroke-width="0.25" textLength="31.5" lengthAdjust="spacingAndGlyphs">1.35398</text>
<text x="6.8" y="443" font-size="9.8" fill="#000" stroke="#000" stroke-width="0.25" textLength="65.6" lengthAdjust="spacingAndGlyphs">MACD(12,26,9)</text>
<text x="75.7" y="443" font-size="9.8" fill="#000" stroke="#000" stroke-width="0.25" textLength="37.4" lengthAdjust="spacingAndGlyphs">0.000245</text>
<text x="116.8" y="443" font-size="9.8" fill="#000" stroke="#000" stroke-width="0.25" textLength="36.6" lengthAdjust="spacingAndGlyphs">0.000176</text>
<text x="6.8" y="523" font-size="9.8" fill="#000" stroke="#000" stroke-width="0.25" textLength="49.4" lengthAdjust="spacingAndGlyphs">Stoch(5,3,3)</text>
<text x="59.4" y="523" font-size="9.8" fill="#000" stroke="#000" stroke-width="0.25" textLength="32.4" lengthAdjust="spacingAndGlyphs">70.7217</text>
<text x="96.2" y="523" font-size="9.8" fill="#000" stroke="#000" stroke-width="0.25" textLength="31.9" lengthAdjust="spacingAndGlyphs">49.4809</text>
<text x="6.6" y="578" font-size="9.8" fill="#000" stroke="#000" stroke-width="0.25" textLength="68.9" lengthAdjust="spacingAndGlyphs">MetaTrader FIX,</text>
<text x="78.9" y="578" font-size="9.8" fill="#000" stroke="#000" stroke-width="0.25" textLength="57.4" lengthAdjust="spacingAndGlyphs">© 2001-2013,</text>
<text x="139" y="578" font-size="9.8" fill="#000" stroke="#000" stroke-width="0.25" textLength="117" lengthAdjust="spacingAndGlyphs">MetaQuotes Software Corp.</text>
</svg>
</body></html>
